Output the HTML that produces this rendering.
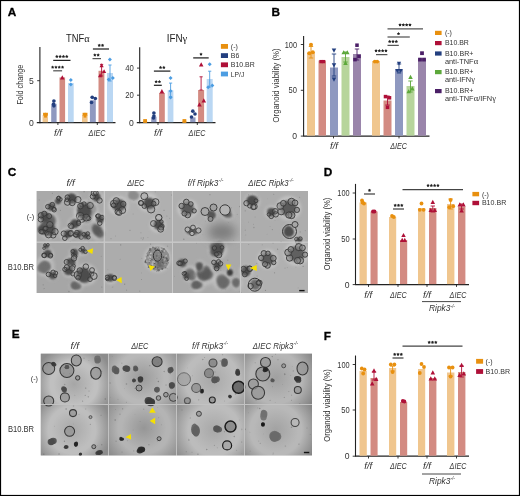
<!DOCTYPE html><html><head><meta charset="utf-8"><style>html,body{margin:0;padding:0;background:#fff;overflow:hidden}svg{display:block;will-change:transform}text{font-family:"Liberation Sans",sans-serif}</style></head><body>
<svg width="520" height="496" viewBox="0 0 520 496">
<defs><filter id="bl" x="-30%" y="-30%" width="160%" height="160%"><feGaussianBlur stdDeviation="0.5"/></filter><filter id="bl4" x="-50%" y="-50%" width="200%" height="200%"><feGaussianBlur stdDeviation="1.4"/></filter><filter id="bl5" x="-50%" y="-50%" width="200%" height="200%"><feGaussianBlur stdDeviation="1.0"/></filter><filter id="bl2" x="-50%" y="-50%" width="200%" height="200%"><feGaussianBlur stdDeviation="2.5"/></filter><filter id="bl3" x="-50%" y="-50%" width="200%" height="200%"><feGaussianBlur stdDeviation="5"/></filter></defs>
<rect x="0" y="0" width="520" height="496" fill="#fff"/>
<text x="7.8" y="16.4" font-size="11.8" text-anchor="start" font-weight="bold" font-style="normal" fill="#000" stroke="#000" stroke-width="0.3">A</text>
<text x="271.5" y="16.4" font-size="11.8" text-anchor="start" font-weight="bold" font-style="normal" fill="#000" stroke="#000" stroke-width="0.3">B</text>
<text x="7.8" y="176.3" font-size="11.8" text-anchor="start" font-weight="bold" font-style="normal" fill="#000" stroke="#000" stroke-width="0.3">C</text>
<text x="323.8" y="176.3" font-size="11.8" text-anchor="start" font-weight="bold" font-style="normal" fill="#000" stroke="#000" stroke-width="0.3">D</text>
<text x="11.8" y="338.4" font-size="11.8" text-anchor="start" font-weight="bold" font-style="normal" fill="#000" stroke="#000" stroke-width="0.3">E</text>
<text x="323.8" y="339.9" font-size="11.8" text-anchor="start" font-weight="bold" font-style="normal" fill="#000" stroke="#000" stroke-width="0.3">F</text>
<text x="66" y="41.9" font-size="10" text-anchor="start" font-weight="normal" font-style="normal" fill="#222" textLength="23.6" lengthAdjust="spacingAndGlyphs">TNF<tspan font-family="Liberation Serif" font-size="11">&#945;</tspan></text>
<line x1="39.9" y1="47" x2="39.9" y2="123.2" stroke="#222" stroke-width="1.1"/>
<line x1="36.8" y1="122.7" x2="115.5" y2="122.7" stroke="#222" stroke-width="1.2"/>
<line x1="37.2" y1="80.7" x2="39.9" y2="80.7" stroke="#222" stroke-width="0.9"/>
<line x1="57.9" y1="122.7" x2="57.9" y2="125" stroke="#222" stroke-width="0.9"/>
<line x1="97.3" y1="122.7" x2="97.3" y2="125" stroke="#222" stroke-width="0.9"/>
<text x="33.9" y="125.6" font-size="8.6" text-anchor="end" font-weight="normal" font-style="normal" fill="#333">0</text>
<text x="33.9" y="83.6" font-size="8.6" text-anchor="end" font-weight="normal" font-style="normal" fill="#333">5</text>
<text x="0" y="0" font-size="8.9" text-anchor="middle" fill="#333" transform="translate(22.7,84.6) rotate(-90)" textLength="40" lengthAdjust="spacingAndGlyphs">Fold change</text>
<text x="54" y="135.6" font-size="8.6" text-anchor="start" font-weight="normal" font-style="italic" fill="#333" textLength="8" lengthAdjust="spacingAndGlyphs">f/f</text>
<text x="88.6" y="135.6" font-size="8.6" text-anchor="start" font-weight="normal" font-style="italic" fill="#333" textLength="16.8" lengthAdjust="spacingAndGlyphs">&#916;IEC</text>
<rect x="42.6" y="115" width="5.4" height="7.2" fill="#F0C68E"/>
<rect x="51.2" y="103.8" width="5.4" height="18.4" fill="#8F99C0"/>
<rect x="59.5" y="77.4" width="5.6" height="44.8" fill="#D38B82"/>
<rect x="68" y="83" width="5.7" height="39.2" fill="#BAD7F3"/>
<rect x="82" y="115" width="5.6" height="7.2" fill="#F0C68E"/>
<rect x="89.9" y="100.2" width="5.9" height="22" fill="#8F99C0"/>
<rect x="98.5" y="70.8" width="5.9" height="51.4" fill="#D38B82"/>
<rect x="107" y="73" width="6" height="49.2" fill="#BAD7F3"/>
<rect x="43.08" y="112.78" width="2.83" height="2.83" fill="#E8900F"/>
<rect x="45.08" y="112.78" width="2.83" height="2.83" fill="#E8900F"/>
<rect x="44.08" y="114.78" width="2.83" height="2.83" fill="#E8900F"/>
<rect x="82.58" y="112.78" width="2.83" height="2.83" fill="#E8900F"/>
<rect x="84.58" y="112.78" width="2.83" height="2.83" fill="#E8900F"/>
<rect x="83.58" y="114.78" width="2.83" height="2.83" fill="#E8900F"/>
<circle cx="53.9" cy="101" r="1.83" fill="#233F7F"/>
<circle cx="53.9" cy="105.8" r="1.83" fill="#233F7F"/>
<circle cx="53.6" cy="104" r="1.83" fill="#233F7F"/>
<circle cx="92.2" cy="97.3" r="1.83" fill="#233F7F"/>
<circle cx="95.3" cy="98.5" r="1.83" fill="#233F7F"/>
<circle cx="91.5" cy="102.5" r="1.83" fill="#233F7F"/>
<polygon points="62.3,75.33 60.03,79.49 64.57,79.49" fill="#AF1038"/>
<line x1="101.6" y1="64.4" x2="101.6" y2="76" stroke="#AF1038" stroke-width="0.9"/>
<line x1="100" y1="64.4" x2="103.2" y2="64.4" stroke="#AF1038" stroke-width="0.9"/>
<line x1="100" y1="76" x2="103.2" y2="76" stroke="#AF1038" stroke-width="0.9"/>
<polygon points="101.6,63.28 99.48,67.17 103.72,67.17" fill="#AF1038"/>
<polygon points="100.1,73.28 97.98,77.17 102.22,77.17" fill="#AF1038"/>
<polygon points="104.1,69.18 101.98,73.07 106.22,73.07" fill="#AF1038"/>
<polygon points="70.8,78.01 72.79,80 70.8,81.99 68.81,80" fill="#4C9DE2"/>
<polygon points="70.8,82.51 72.79,84.5 70.8,86.49 68.81,84.5" fill="#4C9DE2"/>
<line x1="110" y1="65" x2="110" y2="81" stroke="#4C9DE2" stroke-width="0.9"/>
<line x1="108.4" y1="65" x2="111.6" y2="65" stroke="#4C9DE2" stroke-width="0.9"/>
<line x1="108.4" y1="81" x2="111.6" y2="81" stroke="#4C9DE2" stroke-width="0.9"/>
<polygon points="109.9,57.41 111.89,59.4 109.9,61.39 107.91,59.4" fill="#4C9DE2"/>
<polygon points="108.7,77.61 110.69,79.6 108.7,81.59 106.71,79.6" fill="#4C9DE2"/>
<polygon points="112.8,76.01 114.79,78 112.8,79.99 110.81,78" fill="#4C9DE2"/>
<line x1="53.2" y1="60.4" x2="70.5" y2="60.4" stroke="#222" stroke-width="1.25"/>
<polygon points="56.85,54.85 57.45,55.78 58.51,56.06 57.82,56.91 57.88,58.02 56.85,57.62 55.82,58.02 55.88,56.91 55.19,56.06 56.25,55.78" fill="#222"/>
<polygon points="60.15,54.85 60.75,55.78 61.81,56.06 61.12,56.91 61.18,58.02 60.15,57.62 59.12,58.02 59.18,56.91 58.49,56.06 59.55,55.78" fill="#222"/>
<polygon points="63.45,54.85 64.05,55.78 65.11,56.06 64.42,56.91 64.48,58.02 63.45,57.62 62.42,58.02 62.48,56.91 61.79,56.06 62.85,55.78" fill="#222"/>
<polygon points="66.75,54.85 67.35,55.78 68.41,56.06 67.72,56.91 67.78,58.02 66.75,57.62 65.72,58.02 65.78,56.91 65.09,56.06 66.15,55.78" fill="#222"/>
<line x1="53.2" y1="70.8" x2="62.1" y2="70.8" stroke="#555" stroke-width="1.25"/>
<polygon points="52.65,65.45 53.25,66.38 54.31,66.66 53.62,67.51 53.68,68.62 52.65,68.22 51.62,68.62 51.68,67.51 50.99,66.66 52.05,66.38" fill="#222"/>
<polygon points="55.95,65.45 56.55,66.38 57.61,66.66 56.92,67.51 56.98,68.62 55.95,68.22 54.92,68.62 54.98,67.51 54.29,66.66 55.35,66.38" fill="#222"/>
<polygon points="59.25,65.45 59.85,66.38 60.91,66.66 60.22,67.51 60.28,68.62 59.25,68.22 58.22,68.62 58.28,67.51 57.59,66.66 58.65,66.38" fill="#222"/>
<polygon points="62.55,65.45 63.15,66.38 64.21,66.66 63.52,67.51 63.58,68.62 62.55,68.22 61.52,68.62 61.58,67.51 60.89,66.66 61.95,66.38" fill="#222"/>
<line x1="92.9" y1="49" x2="109" y2="49" stroke="#222" stroke-width="1.25"/>
<polygon points="99.25,43.65 99.85,44.58 100.91,44.86 100.22,45.71 100.28,46.82 99.25,46.41 98.22,46.82 98.28,45.71 97.59,44.86 98.65,44.58" fill="#222"/>
<polygon points="102.55,43.65 103.15,44.58 104.21,44.86 103.52,45.71 103.58,46.82 102.55,46.41 101.52,46.82 101.58,45.71 100.89,44.86 101.95,44.58" fill="#222"/>
<line x1="92.5" y1="58.6" x2="101" y2="58.6" stroke="#555" stroke-width="1.25"/>
<polygon points="94.85,53.25 95.45,54.18 96.51,54.46 95.82,55.31 95.88,56.42 94.85,56.02 93.82,56.42 93.88,55.31 93.19,54.46 94.25,54.18" fill="#222"/>
<polygon points="98.15,53.25 98.75,54.18 99.81,54.46 99.12,55.31 99.18,56.42 98.15,56.02 97.12,56.42 97.18,55.31 96.49,54.46 97.55,54.18" fill="#222"/>
<text x="166.8" y="41.9" font-size="10" text-anchor="start" font-weight="normal" font-style="normal" fill="#222" textLength="20.6" lengthAdjust="spacingAndGlyphs">IFN<tspan font-family="Liberation Serif" font-size="11">&#947;</tspan></text>
<line x1="139.7" y1="47.3" x2="139.7" y2="123.2" stroke="#222" stroke-width="1.1"/>
<line x1="136.8" y1="122.7" x2="215.5" y2="122.7" stroke="#222" stroke-width="1.2"/>
<line x1="137" y1="68.1" x2="139.7" y2="68.1" stroke="#222" stroke-width="0.9"/>
<line x1="137" y1="95.2" x2="139.7" y2="95.2" stroke="#222" stroke-width="0.9"/>
<line x1="158" y1="122.7" x2="158" y2="125" stroke="#222" stroke-width="0.9"/>
<line x1="197.3" y1="122.7" x2="197.3" y2="125" stroke="#222" stroke-width="0.9"/>
<text x="133.9" y="125.8" font-size="8.6" text-anchor="end" font-weight="normal" font-style="normal" fill="#333">0</text>
<text x="133.9" y="98.3" font-size="8.6" text-anchor="end" font-weight="normal" font-style="normal" fill="#333" textLength="8.6" lengthAdjust="spacingAndGlyphs">20</text>
<text x="133.9" y="71.1" font-size="8.6" text-anchor="end" font-weight="normal" font-style="normal" fill="#333" textLength="8.6" lengthAdjust="spacingAndGlyphs">40</text>
<text x="154" y="135.6" font-size="8.6" text-anchor="start" font-weight="normal" font-style="italic" fill="#333" textLength="8" lengthAdjust="spacingAndGlyphs">f/f</text>
<text x="188.6" y="135.6" font-size="8.6" text-anchor="start" font-weight="normal" font-style="italic" fill="#333" textLength="16.8" lengthAdjust="spacingAndGlyphs">&#916;IEC</text>
<rect x="143" y="120.8" width="4.2" height="1.4" fill="#F0C68E"/>
<rect x="151.2" y="116.7" width="5.3" height="5.5" fill="#8F99C0"/>
<rect x="159.1" y="92.9" width="5.7" height="29.3" fill="#D38B82"/>
<rect x="167.7" y="90.3" width="5.7" height="31.9" fill="#BAD7F3"/>
<rect x="182.3" y="120.8" width="4.2" height="1.4" fill="#F0C68E"/>
<rect x="190.2" y="117.4" width="5.3" height="4.8" fill="#8F99C0"/>
<rect x="198.1" y="90" width="6" height="32.2" fill="#D38B82"/>
<rect x="206.7" y="79" width="6" height="43.2" fill="#BAD7F3"/>
<rect x="143.21" y="119.11" width="3.78" height="3.78" fill="#E8900F"/>
<rect x="182.51" y="119.11" width="3.78" height="3.78" fill="#E8900F"/>
<circle cx="153.9" cy="113" r="1.83" fill="#233F7F"/>
<circle cx="153.9" cy="116" r="1.83" fill="#233F7F"/>
<circle cx="153.5" cy="118" r="1.83" fill="#233F7F"/>
<circle cx="192.8" cy="111.2" r="1.83" fill="#233F7F"/>
<circle cx="195" cy="114" r="1.83" fill="#233F7F"/>
<circle cx="191.5" cy="117" r="1.83" fill="#233F7F"/>
<polygon points="161.9,89.09 159.49,93.51 164.31,93.51" fill="#AF1038"/>
<line x1="170.6" y1="83.1" x2="170.6" y2="96.7" stroke="#4C9DE2" stroke-width="0.9"/>
<line x1="169" y1="83.1" x2="172.2" y2="83.1" stroke="#4C9DE2" stroke-width="0.9"/>
<line x1="169" y1="96.7" x2="172.2" y2="96.7" stroke="#4C9DE2" stroke-width="0.9"/>
<polygon points="170.6,76.01 172.59,78 170.6,79.99 168.61,78" fill="#4C9DE2"/>
<polygon points="170.6,89.01 172.59,91 170.6,92.99 168.61,91" fill="#4C9DE2"/>
<polygon points="170.6,95.61 172.59,97.6 170.6,99.59 168.61,97.6" fill="#4C9DE2"/>
<line x1="201.1" y1="76.8" x2="201.1" y2="90" stroke="#AF1038" stroke-width="0.9"/>
<line x1="199.5" y1="76.8" x2="202.7" y2="76.8" stroke="#AF1038" stroke-width="0.9"/>
<line x1="199.5" y1="90" x2="202.7" y2="90" stroke="#AF1038" stroke-width="0.9"/>
<polygon points="201.2,62.33 198.93,66.49 203.47,66.49" fill="#AF1038"/>
<polygon points="199.5,102.23 197.23,106.39 201.77,106.39" fill="#AF1038"/>
<polygon points="203.8,98.23 201.53,102.39 206.07,102.39" fill="#AF1038"/>
<line x1="209.7" y1="71.2" x2="209.7" y2="87" stroke="#4C9DE2" stroke-width="0.9"/>
<line x1="208.1" y1="71.2" x2="211.3" y2="71.2" stroke="#4C9DE2" stroke-width="0.9"/>
<line x1="208.1" y1="87" x2="211.3" y2="87" stroke="#4C9DE2" stroke-width="0.9"/>
<polygon points="209.7,62.21 211.69,64.2 209.7,66.19 207.71,64.2" fill="#4C9DE2"/>
<polygon points="208.2,85.21 210.19,87.2 208.2,89.19 206.21,87.2" fill="#4C9DE2"/>
<polygon points="212.3,83.41 214.29,85.4 212.3,87.39 210.31,85.4" fill="#4C9DE2"/>
<line x1="153.9" y1="71.1" x2="170.4" y2="71.1" stroke="#222" stroke-width="1.25"/>
<polygon points="160.55,65.75 161.15,66.68 162.21,66.96 161.52,67.81 161.58,68.92 160.55,68.52 159.52,68.92 159.58,67.81 158.89,66.96 159.95,66.68" fill="#222"/>
<polygon points="163.85,65.75 164.45,66.68 165.51,66.96 164.82,67.81 164.88,68.92 163.85,68.52 162.82,68.92 162.88,67.81 162.19,66.96 163.25,66.68" fill="#222"/>
<line x1="153.9" y1="85.3" x2="161.8" y2="85.3" stroke="#222" stroke-width="1.25"/>
<polygon points="156.15,79.95 156.75,80.88 157.81,81.16 157.12,82.01 157.18,83.12 156.15,82.72 155.12,83.12 155.18,82.01 154.49,81.16 155.55,80.88" fill="#222"/>
<polygon points="159.45,79.95 160.05,80.88 161.11,81.16 160.42,82.01 160.48,83.12 159.45,82.72 158.42,83.12 158.48,82.01 157.79,81.16 158.85,80.88" fill="#222"/>
<line x1="193.2" y1="57.9" x2="208.7" y2="57.9" stroke="#222" stroke-width="1.25"/>
<polygon points="201,52.45 201.6,53.38 202.66,53.66 201.97,54.51 202.03,55.62 201,55.22 199.97,55.62 200.03,54.51 199.34,53.66 200.4,53.38" fill="#222"/>
<rect x="220.9" y="44" width="7.1" height="4.8" fill="#E8900F"/>
<text x="230.8" y="48.9" font-size="7.4" text-anchor="start" font-weight="normal" font-style="normal" fill="#333" textLength="7" lengthAdjust="spacingAndGlyphs">(-)</text>
<rect x="220.9" y="53.2" width="7.1" height="4.8" fill="#233F7F"/>
<text x="230.8" y="58.1" font-size="7.4" text-anchor="start" font-weight="normal" font-style="normal" fill="#333" textLength="8.5" lengthAdjust="spacingAndGlyphs">B6</text>
<rect x="220.9" y="62.4" width="7.1" height="4.8" fill="#AF1038"/>
<text x="230.8" y="67.3" font-size="7.4" text-anchor="start" font-weight="normal" font-style="normal" fill="#333" textLength="24" lengthAdjust="spacingAndGlyphs">B10.BR</text>
<rect x="220.9" y="71.6" width="7.1" height="4.8" fill="#4C9DE2"/>
<text x="230.8" y="76.5" font-size="7.4" text-anchor="start" font-weight="normal" font-style="normal" fill="#333" textLength="13.5" lengthAdjust="spacingAndGlyphs">LP/J</text>
<line x1="303.6" y1="36" x2="303.6" y2="136.6" stroke="#222" stroke-width="1.1"/>
<line x1="303.6" y1="136.1" x2="429.5" y2="136.1" stroke="#222" stroke-width="1.2"/>
<line x1="300.8" y1="44.5" x2="303.6" y2="44.5" stroke="#222" stroke-width="0.9"/>
<line x1="300.8" y1="90.3" x2="303.6" y2="90.3" stroke="#222" stroke-width="0.9"/>
<line x1="300.8" y1="136.1" x2="303.6" y2="136.1" stroke="#222" stroke-width="0.9"/>
<line x1="333.5" y1="136.1" x2="333.5" y2="138.4" stroke="#222" stroke-width="0.9"/>
<line x1="399" y1="136.1" x2="399" y2="138.4" stroke="#222" stroke-width="0.9"/>
<text x="297" y="47.5" font-size="8.6" text-anchor="end" font-weight="normal" font-style="normal" fill="#333" textLength="12.3" lengthAdjust="spacingAndGlyphs">100</text>
<text x="297" y="93.3" font-size="8.6" text-anchor="end" font-weight="normal" font-style="normal" fill="#333" textLength="8.4" lengthAdjust="spacingAndGlyphs">50</text>
<text x="297" y="139.1" font-size="8.6" text-anchor="end" font-weight="normal" font-style="normal" fill="#333">0</text>
<text x="0" y="0" font-size="9.4" text-anchor="middle" fill="#333" transform="translate(278.6,85.5) rotate(-90)" textLength="74" lengthAdjust="spacingAndGlyphs">Organoid viability (%)</text>
<text x="330" y="149" font-size="8.6" text-anchor="start" font-weight="normal" font-style="italic" fill="#333" textLength="8" lengthAdjust="spacingAndGlyphs">f/f</text>
<text x="390.2" y="149" font-size="8.6" text-anchor="start" font-weight="normal" font-style="italic" fill="#333" textLength="16.8" lengthAdjust="spacingAndGlyphs">&#916;IEC</text>
<rect x="307" y="52.5" width="8" height="83.1" fill="#F0C68E"/>
<rect x="318.5" y="60.5" width="7.5" height="75.1" fill="#D38B82"/>
<rect x="330" y="67.5" width="8" height="68.1" fill="#8F99C0"/>
<rect x="341.5" y="57" width="8" height="78.6" fill="#B7D59C"/>
<rect x="353" y="54" width="8" height="81.6" fill="#9A85AB"/>
<rect x="372" y="61" width="8" height="74.6" fill="#F0C68E"/>
<rect x="383.5" y="100.5" width="8" height="35.1" fill="#D38B82"/>
<rect x="395" y="69.5" width="8" height="66.1" fill="#8F99C0"/>
<rect x="406.5" y="86" width="8" height="49.6" fill="#B7D59C"/>
<rect x="418" y="58.5" width="8" height="77.1" fill="#9A85AB"/>
<line x1="311" y1="46.5" x2="311" y2="58" stroke="#E8900F" stroke-width="0.9"/>
<line x1="308.8" y1="46.5" x2="313.2" y2="46.5" stroke="#E8900F" stroke-width="0.9"/>
<line x1="308.8" y1="58" x2="313.2" y2="58" stroke="#E8900F" stroke-width="0.9"/>
<circle cx="311" cy="44.8" r="2.01" fill="#E8900F"/>
<circle cx="309.3" cy="53.2" r="2.01" fill="#E8900F"/>
<circle cx="312.8" cy="52.3" r="2.01" fill="#E8900F"/>
<rect x="319.35" y="59.95" width="3.3" height="3.3" fill="#AF1038"/>
<rect x="321.85" y="59.95" width="3.3" height="3.3" fill="#AF1038"/>
<line x1="334" y1="54" x2="334" y2="76" stroke="#233F7F" stroke-width="0.9"/>
<line x1="331.8" y1="54" x2="336.2" y2="54" stroke="#233F7F" stroke-width="0.9"/>
<line x1="331.8" y1="76" x2="336.2" y2="76" stroke="#233F7F" stroke-width="0.9"/>
<polygon points="334,52.77 331.73,48.61 336.27,48.61" fill="#233F7F"/>
<polygon points="334,67.47 331.73,63.31 336.27,63.31" fill="#233F7F"/>
<polygon points="334,81.77 331.73,77.61 336.27,77.61" fill="#233F7F"/>
<line x1="345.5" y1="52" x2="345.5" y2="62" stroke="#5CA83A" stroke-width="0.9"/>
<line x1="343.3" y1="52" x2="347.7" y2="52" stroke="#5CA83A" stroke-width="0.9"/>
<line x1="343.3" y1="62" x2="347.7" y2="62" stroke="#5CA83A" stroke-width="0.9"/>
<polygon points="343.7,50.13 341.43,54.29 345.97,54.29" fill="#5CA83A"/>
<polygon points="347.3,50.13 345.03,54.29 349.57,54.29" fill="#5CA83A"/>
<polygon points="345.5,60.73 343.23,64.89 347.77,64.89" fill="#5CA83A"/>
<line x1="357" y1="49" x2="357" y2="60" stroke="#4B1F67" stroke-width="0.9"/>
<line x1="354.8" y1="49" x2="359.2" y2="49" stroke="#4B1F67" stroke-width="0.9"/>
<line x1="354.8" y1="60" x2="359.2" y2="60" stroke="#4B1F67" stroke-width="0.9"/>
<rect x="355.23" y="43.43" width="3.54" height="3.54" fill="#4B1F67"/>
<rect x="353.23" y="57.83" width="3.54" height="3.54" fill="#4B1F67"/>
<rect x="357.23" y="54.63" width="3.54" height="3.54" fill="#4B1F67"/>
<circle cx="374.8" cy="61.6" r="1.89" fill="#E8900F"/>
<circle cx="377.2" cy="61.6" r="1.89" fill="#E8900F"/>
<line x1="387.5" y1="96" x2="387.5" y2="105" stroke="#AF1038" stroke-width="0.9"/>
<line x1="385.3" y1="96" x2="389.7" y2="96" stroke="#AF1038" stroke-width="0.9"/>
<line x1="385.3" y1="105" x2="389.7" y2="105" stroke="#AF1038" stroke-width="0.9"/>
<rect x="383.73" y="94.83" width="3.54" height="3.54" fill="#AF1038"/>
<rect x="387.73" y="96.03" width="3.54" height="3.54" fill="#AF1038"/>
<rect x="385.73" y="105.53" width="3.54" height="3.54" fill="#AF1038"/>
<line x1="399" y1="64" x2="399" y2="73" stroke="#233F7F" stroke-width="0.9"/>
<line x1="396.8" y1="64" x2="401.2" y2="64" stroke="#233F7F" stroke-width="0.9"/>
<line x1="396.8" y1="73" x2="401.2" y2="73" stroke="#233F7F" stroke-width="0.9"/>
<polygon points="399,65.62 396.88,61.73 401.12,61.73" fill="#233F7F"/>
<polygon points="397.3,72.92 395.18,69.03 399.42,69.03" fill="#233F7F"/>
<polygon points="400.7,72.92 398.58,69.03 402.82,69.03" fill="#233F7F"/>
<line x1="410.5" y1="81" x2="410.5" y2="92" stroke="#5CA83A" stroke-width="0.9"/>
<line x1="408.3" y1="81" x2="412.7" y2="81" stroke="#5CA83A" stroke-width="0.9"/>
<line x1="408.3" y1="92" x2="412.7" y2="92" stroke="#5CA83A" stroke-width="0.9"/>
<polygon points="410.5,74.73 408.23,78.89 412.77,78.89" fill="#5CA83A"/>
<polygon points="408.7,89.13 406.43,93.29 410.97,93.29" fill="#5CA83A"/>
<polygon points="412.3,86.33 410.03,90.49 414.57,90.49" fill="#5CA83A"/>
<rect x="420.11" y="51.31" width="3.78" height="3.78" fill="#4B1F67"/>
<rect x="418.11" y="57.71" width="3.78" height="3.78" fill="#4B1F67"/>
<rect x="422.11" y="57.71" width="3.78" height="3.78" fill="#4B1F67"/>
<line x1="376" y1="54.6" x2="387.4" y2="54.6" stroke="#555" stroke-width="1.25"/>
<polygon points="376.05,49.05 376.65,49.98 377.71,50.26 377.02,51.11 377.08,52.22 376.05,51.81 375.02,52.22 375.08,51.11 374.39,50.26 375.45,49.98" fill="#222"/>
<polygon points="379.35,49.05 379.95,49.98 381.01,50.26 380.32,51.11 380.38,52.22 379.35,51.81 378.32,52.22 378.38,51.11 377.69,50.26 378.75,49.98" fill="#222"/>
<polygon points="382.65,49.05 383.25,49.98 384.31,50.26 383.62,51.11 383.68,52.22 382.65,51.81 381.62,52.22 381.68,51.11 380.99,50.26 382.05,49.98" fill="#222"/>
<polygon points="385.95,49.05 386.55,49.98 387.61,50.26 386.92,51.11 386.98,52.22 385.95,51.81 384.92,52.22 384.98,51.11 384.29,50.26 385.35,49.98" fill="#222"/>
<line x1="387.5" y1="45.4" x2="398.8" y2="45.4" stroke="#555" stroke-width="1.25"/>
<polygon points="389.7,39.85 390.3,40.78 391.36,41.06 390.67,41.91 390.73,43.02 389.7,42.62 388.67,43.02 388.73,41.91 388.04,41.06 389.1,40.78" fill="#222"/>
<polygon points="393,39.85 393.6,40.78 394.66,41.06 393.97,41.91 394.03,43.02 393,42.62 391.97,43.02 392.03,41.91 391.34,41.06 392.4,40.78" fill="#222"/>
<polygon points="396.3,39.85 396.9,40.78 397.96,41.06 397.27,41.91 397.33,43.02 396.3,42.62 395.27,43.02 395.33,41.91 394.64,41.06 395.7,40.78" fill="#222"/>
<line x1="387.5" y1="37" x2="409.8" y2="37" stroke="#555" stroke-width="1.25"/>
<polygon points="398.5,31.95 399.1,32.88 400.16,33.16 399.47,34.01 399.53,35.12 398.5,34.72 397.47,35.12 397.53,34.01 396.84,33.16 397.9,32.88" fill="#222"/>
<line x1="387.5" y1="28.8" x2="423" y2="28.8" stroke="#555" stroke-width="1.25"/>
<polygon points="400.05,23.15 400.65,24.08 401.71,24.36 401.02,25.21 401.08,26.32 400.05,25.91 399.02,26.32 399.08,25.21 398.39,24.36 399.45,24.08" fill="#222"/>
<polygon points="403.35,23.15 403.95,24.08 405.01,24.36 404.32,25.21 404.38,26.32 403.35,25.91 402.32,26.32 402.38,25.21 401.69,24.36 402.75,24.08" fill="#222"/>
<polygon points="406.65,23.15 407.25,24.08 408.31,24.36 407.62,25.21 407.68,26.32 406.65,25.91 405.62,26.32 405.68,25.21 404.99,24.36 406.05,24.08" fill="#222"/>
<polygon points="409.95,23.15 410.55,24.08 411.61,24.36 410.92,25.21 410.98,26.32 409.95,25.91 408.92,26.32 408.98,25.21 408.29,24.36 409.35,24.08" fill="#222"/>
<rect x="435" y="30.8" width="6.6" height="4.2" fill="#E8900F"/>
<text x="444.9" y="35.1" font-size="7.4" text-anchor="start" font-weight="normal" font-style="normal" fill="#333" textLength="7" lengthAdjust="spacingAndGlyphs">(-)</text>
<rect x="435" y="41" width="6.6" height="4.2" fill="#AF1038"/>
<text x="444.9" y="45.3" font-size="7.4" text-anchor="start" font-weight="normal" font-style="normal" fill="#333" textLength="24" lengthAdjust="spacingAndGlyphs">B10.BR</text>
<rect x="435" y="51.4" width="6.6" height="4.2" fill="#233F7F"/>
<text x="444.9" y="55.7" font-size="7.4" text-anchor="start" font-weight="normal" font-style="normal" fill="#333" textLength="28.5" lengthAdjust="spacingAndGlyphs">B10.BR+</text>
<text x="444.9" y="63.8" font-size="7.4" text-anchor="start" font-weight="normal" font-style="normal" fill="#333">anti-TNF<tspan font-family="Liberation Serif" font-size="8.6">&#945;</tspan></text>
<rect x="435" y="70" width="6.6" height="4.2" fill="#5CA83A"/>
<text x="444.9" y="74.3" font-size="7.4" text-anchor="start" font-weight="normal" font-style="normal" fill="#333" textLength="28.5" lengthAdjust="spacingAndGlyphs">B10.BR+</text>
<text x="444.9" y="82.4" font-size="7.4" text-anchor="start" font-weight="normal" font-style="normal" fill="#333">anti-IFN<tspan font-family="Liberation Serif" font-size="8.6">&#947;</tspan></text>
<rect x="435" y="89" width="6.6" height="4.2" fill="#4B1F67"/>
<text x="444.9" y="93.3" font-size="7.4" text-anchor="start" font-weight="normal" font-style="normal" fill="#333" textLength="28.5" lengthAdjust="spacingAndGlyphs">B10.BR+</text>
<text x="444.9" y="101.4" font-size="7.4" text-anchor="start" font-weight="normal" font-style="normal" fill="#333">anti-TNF<tspan font-family="Liberation Serif" font-size="8.6">&#945;</tspan>/IFN<tspan font-family="Liberation Serif" font-size="8.6">&#947;</tspan></text>
<line x1="355.5" y1="183.9" x2="355.5" y2="285.1" stroke="#222" stroke-width="1.1"/>
<line x1="355.5" y1="284.6" x2="469" y2="284.6" stroke="#222" stroke-width="1.2"/>
<line x1="352.7" y1="193" x2="355.5" y2="193" stroke="#222" stroke-width="0.9"/>
<line x1="352.7" y1="239" x2="355.5" y2="239" stroke="#222" stroke-width="0.9"/>
<line x1="352.7" y1="284.6" x2="355.5" y2="284.6" stroke="#222" stroke-width="0.9"/>
<line x1="368.5" y1="284.6" x2="368.5" y2="286.9" stroke="#222" stroke-width="0.9"/>
<line x1="398" y1="284.6" x2="398" y2="286.9" stroke="#222" stroke-width="0.9"/>
<line x1="427" y1="284.6" x2="427" y2="286.9" stroke="#222" stroke-width="0.9"/>
<line x1="456.5" y1="284.6" x2="456.5" y2="286.9" stroke="#222" stroke-width="0.9"/>
<text x="349.6" y="196" font-size="8.6" text-anchor="end" font-weight="normal" font-style="normal" fill="#333" textLength="12.3" lengthAdjust="spacingAndGlyphs">100</text>
<text x="349.6" y="242" font-size="8.6" text-anchor="end" font-weight="normal" font-style="normal" fill="#333" textLength="8.4" lengthAdjust="spacingAndGlyphs">50</text>
<text x="349.6" y="287.6" font-size="8.6" text-anchor="end" font-weight="normal" font-style="normal" fill="#333">0</text>
<text x="0" y="0" font-size="9.4" text-anchor="middle" fill="#333" transform="translate(330.1,234) rotate(-90)" textLength="72.5" lengthAdjust="spacingAndGlyphs">Organoid viability (%)</text>
<text x="364.3" y="298" font-size="8.6" text-anchor="start" font-weight="normal" font-style="italic" fill="#333" textLength="8" lengthAdjust="spacingAndGlyphs">f/f</text>
<text x="390" y="298" font-size="8.6" text-anchor="start" font-weight="normal" font-style="italic" fill="#333" textLength="16.8" lengthAdjust="spacingAndGlyphs">&#916;IEC</text>
<text x="423" y="298" font-size="8.6" text-anchor="start" font-weight="normal" font-style="italic" fill="#333" textLength="8" lengthAdjust="spacingAndGlyphs">f/f</text>
<text x="449.6" y="298" font-size="8.6" text-anchor="start" font-weight="normal" font-style="italic" fill="#333" textLength="16.8" lengthAdjust="spacingAndGlyphs">&#916;IEC</text>
<line x1="422" y1="301.6" x2="461" y2="301.6" stroke="#333" stroke-width="0.9"/>
<text x="429" y="311" font-size="8.6" text-anchor="start" font-weight="normal" font-style="italic" fill="#333" textLength="26" lengthAdjust="spacingAndGlyphs">Ripk3<tspan font-size="5" dy="-3.3">-/-</tspan></text>
<rect x="359.5" y="202.5" width="7.3" height="81.6" fill="#F0C68E"/>
<rect x="370.5" y="211.5" width="7.1" height="72.6" fill="#D38B82"/>
<rect x="389" y="217" width="7.2" height="67.1" fill="#F0C68E"/>
<rect x="400" y="240" width="7.2" height="44.1" fill="#D38B82"/>
<rect x="418" y="208" width="7.2" height="76.1" fill="#F0C68E"/>
<rect x="429" y="208" width="7.4" height="76.1" fill="#D38B82"/>
<rect x="447" y="204" width="7.4" height="80.1" fill="#F0C68E"/>
<rect x="458" y="206.5" width="7.4" height="77.6" fill="#D38B82"/>
<line x1="432.8" y1="206" x2="432.8" y2="212" stroke="#AF1038" stroke-width="0.9"/>
<line x1="430.6" y1="206" x2="435" y2="206" stroke="#AF1038" stroke-width="0.9"/>
<line x1="430.6" y1="212" x2="435" y2="212" stroke="#AF1038" stroke-width="0.9"/>
<line x1="450.6" y1="199" x2="450.6" y2="209" stroke="#E8900F" stroke-width="0.9"/>
<line x1="448.4" y1="199" x2="452.8" y2="199" stroke="#E8900F" stroke-width="0.9"/>
<line x1="448.4" y1="209" x2="452.8" y2="209" stroke="#E8900F" stroke-width="0.9"/>
<line x1="461.6" y1="204" x2="461.6" y2="209" stroke="#AF1038" stroke-width="0.9"/>
<line x1="459.4" y1="204" x2="463.8" y2="204" stroke="#AF1038" stroke-width="0.9"/>
<line x1="459.4" y1="209" x2="463.8" y2="209" stroke="#AF1038" stroke-width="0.9"/>
<circle cx="362" cy="200.5" r="1.89" fill="#E8900F"/>
<circle cx="364" cy="203.5" r="1.89" fill="#E8900F"/>
<circle cx="362.5" cy="202.5" r="1.89" fill="#E8900F"/>
<circle cx="373" cy="211.5" r="1.89" fill="#AF1038"/>
<circle cx="374.5" cy="211.5" r="1.89" fill="#AF1038"/>
<circle cx="392" cy="216" r="1.89" fill="#E8900F"/>
<circle cx="393.8" cy="217" r="1.89" fill="#E8900F"/>
<polygon points="403.5,232.93 401.23,237.09 405.77,237.09" fill="#AF1038"/>
<polygon points="402.2,237.73 399.93,241.89 404.47,241.89" fill="#AF1038"/>
<polygon points="404.8,237.73 402.53,241.89 407.07,241.89" fill="#AF1038"/>
<circle cx="421.5" cy="203.5" r="1.89" fill="#E8900F"/>
<circle cx="419.8" cy="209.8" r="1.89" fill="#E8900F"/>
<circle cx="423.6" cy="209.8" r="1.89" fill="#E8900F"/>
<polygon points="432.8,199.73 430.53,203.89 435.07,203.89" fill="#AF1038"/>
<polygon points="430.8,207.73 428.53,211.89 433.07,211.89" fill="#AF1038"/>
<polygon points="434.8,207.73 432.53,211.89 437.07,211.89" fill="#AF1038"/>
<circle cx="450.6" cy="200" r="1.89" fill="#E8900F"/>
<circle cx="449.2" cy="207.2" r="1.89" fill="#E8900F"/>
<circle cx="453.2" cy="206.2" r="1.89" fill="#E8900F"/>
<polygon points="459.8,202.23 457.53,206.39 462.07,206.39" fill="#AF1038"/>
<polygon points="463.4,202.23 461.13,206.39 465.67,206.39" fill="#AF1038"/>
<polygon points="461.6,208.23 459.33,212.39 463.87,212.39" fill="#AF1038"/>
<line x1="364" y1="194" x2="375" y2="194" stroke="#444" stroke-width="1.25"/>
<polygon points="369.5,188.65 370.1,189.58 371.16,189.86 370.47,190.71 370.53,191.82 369.5,191.41 368.47,191.82 368.53,190.71 367.84,189.86 368.9,189.58" fill="#222"/>
<line x1="393" y1="209" x2="404" y2="209" stroke="#444" stroke-width="1.25"/>
<polygon points="395.2,203.65 395.8,204.58 396.86,204.86 396.17,205.71 396.23,206.82 395.2,206.41 394.17,206.82 394.23,205.71 393.54,204.86 394.6,204.58" fill="#222"/>
<polygon points="398.5,203.65 399.1,204.58 400.16,204.86 399.47,205.71 399.53,206.82 398.5,206.41 397.47,206.82 397.53,205.71 396.84,204.86 397.9,204.58" fill="#222"/>
<polygon points="401.8,203.65 402.4,204.58 403.46,204.86 402.77,205.71 402.83,206.82 401.8,206.41 400.77,206.82 400.83,205.71 400.14,204.86 401.2,204.58" fill="#222"/>
<line x1="402.5" y1="189.5" x2="463" y2="189.5" stroke="#444" stroke-width="1.25"/>
<polygon points="428.05,183.75 428.65,184.68 429.71,184.96 429.02,185.81 429.08,186.92 428.05,186.51 427.02,186.92 427.08,185.81 426.39,184.96 427.45,184.68" fill="#222"/>
<polygon points="431.35,183.75 431.95,184.68 433.01,184.96 432.32,185.81 432.38,186.92 431.35,186.51 430.32,186.92 430.38,185.81 429.69,184.96 430.75,184.68" fill="#222"/>
<polygon points="434.65,183.75 435.25,184.68 436.31,184.96 435.62,185.81 435.68,186.92 434.65,186.51 433.62,186.92 433.68,185.81 432.99,184.96 434.05,184.68" fill="#222"/>
<polygon points="437.95,183.75 438.55,184.68 439.61,184.96 438.92,185.81 438.98,186.92 437.95,186.51 436.92,186.92 436.98,185.81 436.29,184.96 437.35,184.68" fill="#222"/>
<rect x="472.4" y="191.9" width="6.7" height="4.4" fill="#E8900F"/>
<rect x="472.4" y="200.8" width="6.7" height="4.4" fill="#AF1038"/>
<text x="481.9" y="196.5" font-size="7.6" text-anchor="start" font-weight="normal" font-style="normal" fill="#333" textLength="7" lengthAdjust="spacingAndGlyphs">(-)</text>
<text x="481.9" y="205.4" font-size="7.6" text-anchor="start" font-weight="normal" font-style="normal" fill="#333" textLength="24.4" lengthAdjust="spacingAndGlyphs">B10.BR</text>
<line x1="355.5" y1="355.5" x2="355.5" y2="456.7" stroke="#222" stroke-width="1.1"/>
<line x1="355.5" y1="456.2" x2="469" y2="456.2" stroke="#222" stroke-width="1.2"/>
<line x1="352.7" y1="364.5" x2="355.5" y2="364.5" stroke="#222" stroke-width="0.9"/>
<line x1="352.7" y1="410" x2="355.5" y2="410" stroke="#222" stroke-width="0.9"/>
<line x1="352.7" y1="456.2" x2="355.5" y2="456.2" stroke="#222" stroke-width="0.9"/>
<line x1="368.5" y1="456.2" x2="368.5" y2="458.5" stroke="#222" stroke-width="0.9"/>
<line x1="398" y1="456.2" x2="398" y2="458.5" stroke="#222" stroke-width="0.9"/>
<line x1="427" y1="456.2" x2="427" y2="458.5" stroke="#222" stroke-width="0.9"/>
<line x1="456.5" y1="456.2" x2="456.5" y2="458.5" stroke="#222" stroke-width="0.9"/>
<text x="349.6" y="367.5" font-size="8.6" text-anchor="end" font-weight="normal" font-style="normal" fill="#333" textLength="12.3" lengthAdjust="spacingAndGlyphs">100</text>
<text x="349.6" y="413" font-size="8.6" text-anchor="end" font-weight="normal" font-style="normal" fill="#333" textLength="8.4" lengthAdjust="spacingAndGlyphs">50</text>
<text x="349.6" y="459.2" font-size="8.6" text-anchor="end" font-weight="normal" font-style="normal" fill="#333">0</text>
<text x="0" y="0" font-size="9.4" text-anchor="middle" fill="#333" transform="translate(330.1,405.55) rotate(-90)" textLength="72.5" lengthAdjust="spacingAndGlyphs">Organoid viability (%)</text>
<text x="364.3" y="468.6" font-size="8.6" text-anchor="start" font-weight="normal" font-style="italic" fill="#333" textLength="8" lengthAdjust="spacingAndGlyphs">f/f</text>
<text x="390" y="468.6" font-size="8.6" text-anchor="start" font-weight="normal" font-style="italic" fill="#333" textLength="16.8" lengthAdjust="spacingAndGlyphs">&#916;IEC</text>
<text x="423" y="468.6" font-size="8.6" text-anchor="start" font-weight="normal" font-style="italic" fill="#333" textLength="8" lengthAdjust="spacingAndGlyphs">f/f</text>
<text x="449.6" y="468.6" font-size="8.6" text-anchor="start" font-weight="normal" font-style="italic" fill="#333" textLength="16.8" lengthAdjust="spacingAndGlyphs">&#916;IEC</text>
<line x1="422" y1="474" x2="461" y2="474" stroke="#333" stroke-width="0.9"/>
<text x="429" y="483.6" font-size="8.6" text-anchor="start" font-weight="normal" font-style="italic" fill="#333" textLength="26" lengthAdjust="spacingAndGlyphs">Ripk3<tspan font-size="5" dy="-3.3">-/-</tspan></text>
<rect x="359.5" y="371" width="7.3" height="84.7" fill="#F0C68E"/>
<rect x="370.5" y="378" width="7.1" height="77.7" fill="#D38B82"/>
<rect x="389" y="368" width="7.2" height="87.7" fill="#F0C68E"/>
<rect x="400" y="402" width="7.2" height="53.7" fill="#D38B82"/>
<rect x="418" y="369" width="7.2" height="86.7" fill="#F0C68E"/>
<rect x="429" y="378" width="7.4" height="77.7" fill="#D38B82"/>
<rect x="447" y="372.5" width="7.4" height="83.2" fill="#F0C68E"/>
<rect x="458" y="372" width="7.4" height="83.7" fill="#D38B82"/>
<line x1="374" y1="372" x2="374" y2="380" stroke="#AF1038" stroke-width="0.9"/>
<line x1="371.8" y1="372" x2="376.2" y2="372" stroke="#AF1038" stroke-width="0.9"/>
<line x1="371.8" y1="380" x2="376.2" y2="380" stroke="#AF1038" stroke-width="0.9"/>
<line x1="392.6" y1="366" x2="392.6" y2="371" stroke="#E8900F" stroke-width="0.9"/>
<line x1="390.4" y1="366" x2="394.8" y2="366" stroke="#E8900F" stroke-width="0.9"/>
<line x1="390.4" y1="371" x2="394.8" y2="371" stroke="#E8900F" stroke-width="0.9"/>
<line x1="450.6" y1="367" x2="450.6" y2="376" stroke="#E8900F" stroke-width="0.9"/>
<line x1="448.4" y1="367" x2="452.8" y2="367" stroke="#E8900F" stroke-width="0.9"/>
<line x1="448.4" y1="376" x2="452.8" y2="376" stroke="#E8900F" stroke-width="0.9"/>
<line x1="461.6" y1="366" x2="461.6" y2="377" stroke="#AF1038" stroke-width="0.9"/>
<line x1="459.4" y1="366" x2="463.8" y2="366" stroke="#AF1038" stroke-width="0.9"/>
<line x1="459.4" y1="377" x2="463.8" y2="377" stroke="#AF1038" stroke-width="0.9"/>
<circle cx="361.8" cy="368.5" r="1.89" fill="#E8900F"/>
<circle cx="364.6" cy="369.5" r="1.89" fill="#E8900F"/>
<circle cx="363.2" cy="373.5" r="1.89" fill="#E8900F"/>
<polygon points="374,368.23 371.73,372.39 376.27,372.39" fill="#AF1038"/>
<polygon points="372.2,381.23 369.93,385.39 374.47,385.39" fill="#AF1038"/>
<polygon points="376.2,376.73 373.93,380.89 378.47,380.89" fill="#AF1038"/>
<circle cx="390.8" cy="364.5" r="1.89" fill="#E8900F"/>
<circle cx="394.4" cy="364.5" r="1.89" fill="#E8900F"/>
<circle cx="392.6" cy="372" r="1.89" fill="#E8900F"/>
<circle cx="402.8" cy="401" r="1.89" fill="#AF1038"/>
<circle cx="404.4" cy="401.5" r="1.89" fill="#AF1038"/>
<circle cx="421.5" cy="364" r="1.89" fill="#E8900F"/>
<circle cx="424" cy="367" r="1.89" fill="#E8900F"/>
<circle cx="419.8" cy="373" r="1.89" fill="#E8900F"/>
<polygon points="432.8,370.23 430.53,374.39 435.07,374.39" fill="#AF1038"/>
<polygon points="430.8,376.23 428.53,380.39 433.07,380.39" fill="#AF1038"/>
<polygon points="434.8,376.23 432.53,380.39 437.07,380.39" fill="#AF1038"/>
<circle cx="449" cy="367.5" r="1.89" fill="#E8900F"/>
<circle cx="452.6" cy="367.5" r="1.89" fill="#E8900F"/>
<circle cx="450.6" cy="376.5" r="1.89" fill="#E8900F"/>
<polygon points="461.6,362.73 459.33,366.89 463.87,366.89" fill="#AF1038"/>
<polygon points="459.6,372.73 457.33,376.89 461.87,376.89" fill="#AF1038"/>
<polygon points="463.8,371.23 461.53,375.39 466.07,375.39" fill="#AF1038"/>
<line x1="392.5" y1="358" x2="403.5" y2="358" stroke="#444" stroke-width="1.25"/>
<polygon points="394.7,352.65 395.3,353.58 396.36,353.86 395.67,354.71 395.73,355.82 394.7,355.41 393.67,355.82 393.73,354.71 393.04,353.86 394.1,353.58" fill="#222"/>
<polygon points="398,352.65 398.6,353.58 399.66,353.86 398.97,354.71 399.03,355.82 398,355.41 396.97,355.82 397.03,354.71 396.34,353.86 397.4,353.58" fill="#222"/>
<polygon points="401.3,352.65 401.9,353.58 402.96,353.86 402.27,354.71 402.33,355.82 401.3,355.41 400.27,355.82 400.33,354.71 399.64,353.86 400.7,353.58" fill="#222"/>
<line x1="402.5" y1="346" x2="462.5" y2="346" stroke="#444" stroke-width="1.25"/>
<polygon points="429.2,340.65 429.8,341.58 430.86,341.86 430.17,342.71 430.23,343.82 429.2,343.41 428.17,343.82 428.23,342.71 427.54,341.86 428.6,341.58" fill="#222"/>
<polygon points="432.5,340.65 433.1,341.58 434.16,341.86 433.47,342.71 433.53,343.82 432.5,343.41 431.47,343.82 431.53,342.71 430.84,341.86 431.9,341.58" fill="#222"/>
<polygon points="435.8,340.65 436.4,341.58 437.46,341.86 436.77,342.71 436.83,343.82 435.8,343.41 434.77,343.82 434.83,342.71 434.14,341.86 435.2,341.58" fill="#222"/>
<rect x="476.1" y="358.9" width="7" height="4.8" fill="#E8900F"/>
<rect x="476.1" y="369.1" width="7" height="4.8" fill="#AF1038"/>
<text x="485.6" y="363.9" font-size="7.6" text-anchor="start" font-weight="normal" font-style="normal" fill="#333" textLength="7" lengthAdjust="spacingAndGlyphs">(-)</text>
<text x="485.6" y="374.1" font-size="7.6" text-anchor="start" font-weight="normal" font-style="normal" fill="#333" textLength="24.4" lengthAdjust="spacingAndGlyphs">B10.BR</text>
<g>
<rect x="36.7" y="191" width="271.3" height="102" fill="#cacaca"/>
<rect x="36.7" y="191" width="67.1" height="50.7" fill="#a9a9a9"/>
<rect x="104.8" y="191" width="67.2" height="50.7" fill="#b0b0b0"/>
<rect x="173" y="191" width="67" height="50.7" fill="#afafaf"/>
<rect x="241" y="191" width="67" height="50.7" fill="#adadad"/>
<rect x="36.7" y="242.7" width="67.1" height="50.3" fill="#a6a6a6"/>
<rect x="104.8" y="242.7" width="67.2" height="50.3" fill="#acacac"/>
<rect x="173" y="242.7" width="67" height="50.3" fill="#a9a9a9"/>
<rect x="241" y="242.7" width="67" height="50.3" fill="#b1b1b1"/>
<clipPath id="cc"><rect x="36.7" y="191" width="271.3" height="102"/></clipPath>
<g clip-path="url(#cc)">
<circle cx="253.56" cy="224.24" r="0.43" fill="#6a6a6a" fill-opacity="0.54"/>
<circle cx="68.18" cy="239.58" r="0.55" fill="#6a6a6a" fill-opacity="0.46"/>
<circle cx="76.42" cy="255.33" r="0.53" fill="#6a6a6a" fill-opacity="0.55"/>
<circle cx="44.68" cy="288.63" r="0.41" fill="#6a6a6a" fill-opacity="0.53"/>
<circle cx="174.48" cy="276.24" r="0.41" fill="#6a6a6a" fill-opacity="0.36"/>
<circle cx="60.63" cy="270.43" r="0.54" fill="#6a6a6a" fill-opacity="0.32"/>
<circle cx="88.95" cy="199.26" r="0.42" fill="#6a6a6a" fill-opacity="0.45"/>
<circle cx="155.6" cy="262.83" r="0.38" fill="#6a6a6a" fill-opacity="0.54"/>
<circle cx="303.14" cy="266.45" r="0.61" fill="#6a6a6a" fill-opacity="0.55"/>
<circle cx="62.72" cy="238.05" r="0.38" fill="#6a6a6a" fill-opacity="0.52"/>
<circle cx="182.79" cy="201.86" r="0.51" fill="#6a6a6a" fill-opacity="0.52"/>
<circle cx="186.61" cy="203.39" r="0.68" fill="#6a6a6a" fill-opacity="0.27"/>
<circle cx="265.48" cy="290.35" r="0.61" fill="#6a6a6a" fill-opacity="0.58"/>
<circle cx="180.89" cy="213.35" r="0.52" fill="#6a6a6a" fill-opacity="0.51"/>
<circle cx="245.27" cy="230.2" r="0.68" fill="#6a6a6a" fill-opacity="0.26"/>
<circle cx="171.37" cy="195.02" r="0.48" fill="#6a6a6a" fill-opacity="0.6"/>
<circle cx="68.95" cy="291.53" r="0.67" fill="#6a6a6a" fill-opacity="0.49"/>
<circle cx="52.16" cy="239.09" r="0.59" fill="#6a6a6a" fill-opacity="0.28"/>
<circle cx="117.82" cy="200.37" r="0.65" fill="#6a6a6a" fill-opacity="0.57"/>
<circle cx="287.31" cy="267.58" r="0.55" fill="#6a6a6a" fill-opacity="0.27"/>
<circle cx="167.47" cy="268.58" r="0.61" fill="#6a6a6a" fill-opacity="0.26"/>
<circle cx="39.22" cy="199.99" r="0.67" fill="#6a6a6a" fill-opacity="0.29"/>
<circle cx="142.76" cy="239.54" r="0.66" fill="#6a6a6a" fill-opacity="0.3"/>
<circle cx="107.87" cy="269.74" r="0.38" fill="#6a6a6a" fill-opacity="0.31"/>
<circle cx="43.8" cy="288.74" r="0.43" fill="#6a6a6a" fill-opacity="0.43"/>
<circle cx="139.75" cy="291.12" r="0.6" fill="#6a6a6a" fill-opacity="0.46"/>
<circle cx="169.66" cy="218.32" r="0.64" fill="#6a6a6a" fill-opacity="0.29"/>
<circle cx="205.5" cy="221.09" r="0.45" fill="#6a6a6a" fill-opacity="0.41"/>
<circle cx="88.25" cy="251.37" r="0.37" fill="#6a6a6a" fill-opacity="0.26"/>
<circle cx="75.3" cy="200.17" r="0.66" fill="#6a6a6a" fill-opacity="0.43"/>
<circle cx="220.94" cy="270.46" r="0.41" fill="#6a6a6a" fill-opacity="0.58"/>
<circle cx="141.15" cy="237.95" r="0.52" fill="#6a6a6a" fill-opacity="0.49"/>
<circle cx="245.23" cy="210.79" r="0.64" fill="#6a6a6a" fill-opacity="0.4"/>
<circle cx="105.03" cy="279.16" r="0.66" fill="#6a6a6a" fill-opacity="0.55"/>
<circle cx="124.66" cy="284.22" r="0.62" fill="#6a6a6a" fill-opacity="0.59"/>
<circle cx="241.57" cy="292.98" r="0.52" fill="#6a6a6a" fill-opacity="0.51"/>
<circle cx="248.7" cy="244.49" r="0.53" fill="#6a6a6a" fill-opacity="0.39"/>
<circle cx="272.37" cy="229.61" r="0.61" fill="#6a6a6a" fill-opacity="0.45"/>
<circle cx="228.57" cy="222.54" r="0.38" fill="#6a6a6a" fill-opacity="0.49"/>
<circle cx="76.3" cy="227.68" r="0.62" fill="#6a6a6a" fill-opacity="0.27"/>
<circle cx="283.89" cy="251.06" r="0.55" fill="#6a6a6a" fill-opacity="0.49"/>
<circle cx="52.44" cy="193.26" r="0.6" fill="#6a6a6a" fill-opacity="0.46"/>
<circle cx="210.29" cy="274.96" r="0.44" fill="#6a6a6a" fill-opacity="0.31"/>
<circle cx="299.58" cy="197.17" r="0.53" fill="#6a6a6a" fill-opacity="0.47"/>
<circle cx="295.84" cy="199.84" r="0.6" fill="#6a6a6a" fill-opacity="0.28"/>
<circle cx="159.98" cy="254.26" r="0.65" fill="#6a6a6a" fill-opacity="0.27"/>
<circle cx="239.84" cy="206.18" r="0.49" fill="#6a6a6a" fill-opacity="0.59"/>
<circle cx="267.48" cy="198.82" r="0.35" fill="#6a6a6a" fill-opacity="0.26"/>
<circle cx="248.61" cy="194.91" r="0.62" fill="#6a6a6a" fill-opacity="0.53"/>
<circle cx="258.57" cy="286.54" r="0.57" fill="#6a6a6a" fill-opacity="0.54"/>
<circle cx="184.11" cy="259.18" r="0.37" fill="#6a6a6a" fill-opacity="0.44"/>
<circle cx="305.38" cy="230.59" r="0.6" fill="#6a6a6a" fill-opacity="0.31"/>
<circle cx="167.52" cy="246.23" r="0.62" fill="#6a6a6a" fill-opacity="0.36"/>
<circle cx="164.04" cy="210.37" r="0.55" fill="#6a6a6a" fill-opacity="0.58"/>
<circle cx="141.78" cy="258.25" r="0.54" fill="#6a6a6a" fill-opacity="0.32"/>
<circle cx="225.72" cy="212.59" r="0.56" fill="#6a6a6a" fill-opacity="0.6"/>
<circle cx="120.12" cy="259.2" r="0.47" fill="#6a6a6a" fill-opacity="0.48"/>
<circle cx="88.85" cy="242.07" r="0.62" fill="#6a6a6a" fill-opacity="0.32"/>
<circle cx="133.11" cy="214.02" r="0.41" fill="#6a6a6a" fill-opacity="0.48"/>
<circle cx="262.28" cy="244.73" r="0.51" fill="#6a6a6a" fill-opacity="0.36"/>
<circle cx="101.85" cy="287.12" r="0.52" fill="#6a6a6a" fill-opacity="0.49"/>
<circle cx="112.63" cy="208.65" r="0.35" fill="#6a6a6a" fill-opacity="0.35"/>
<circle cx="150.56" cy="244.17" r="0.57" fill="#6a6a6a" fill-opacity="0.49"/>
<circle cx="274.55" cy="272.8" r="0.59" fill="#6a6a6a" fill-opacity="0.53"/>
<circle cx="183.84" cy="239.22" r="0.67" fill="#6a6a6a" fill-opacity="0.56"/>
<circle cx="141.59" cy="279.47" r="0.5" fill="#6a6a6a" fill-opacity="0.51"/>
<circle cx="43.56" cy="251.66" r="0.68" fill="#6a6a6a" fill-opacity="0.4"/>
<circle cx="272.96" cy="260.43" r="0.36" fill="#6a6a6a" fill-opacity="0.28"/>
<circle cx="126.59" cy="290.08" r="0.58" fill="#6a6a6a" fill-opacity="0.46"/>
<circle cx="270.05" cy="226.72" r="0.4" fill="#6a6a6a" fill-opacity="0.41"/>
<circle cx="283.08" cy="207.88" r="0.52" fill="#6a6a6a" fill-opacity="0.35"/>
<circle cx="133.82" cy="200.43" r="0.67" fill="#6a6a6a" fill-opacity="0.34"/>
<circle cx="250.85" cy="208.64" r="0.5" fill="#6a6a6a" fill-opacity="0.26"/>
<circle cx="196.47" cy="242.99" r="0.5" fill="#6a6a6a" fill-opacity="0.32"/>
<circle cx="209.96" cy="194.63" r="0.68" fill="#6a6a6a" fill-opacity="0.42"/>
<circle cx="202.58" cy="234.29" r="0.36" fill="#6a6a6a" fill-opacity="0.26"/>
<circle cx="233.65" cy="240.63" r="0.45" fill="#6a6a6a" fill-opacity="0.44"/>
<circle cx="273.06" cy="243" r="0.53" fill="#6a6a6a" fill-opacity="0.45"/>
<circle cx="273.74" cy="194.22" r="0.58" fill="#6a6a6a" fill-opacity="0.45"/>
<circle cx="231.11" cy="207.82" r="0.64" fill="#6a6a6a" fill-opacity="0.53"/>
<circle cx="112.17" cy="287.7" r="0.37" fill="#6a6a6a" fill-opacity="0.44"/>
<circle cx="60.44" cy="210.23" r="0.57" fill="#6a6a6a" fill-opacity="0.5"/>
<circle cx="166.88" cy="216" r="0.54" fill="#6a6a6a" fill-opacity="0.41"/>
<circle cx="140.96" cy="232.85" r="0.51" fill="#6a6a6a" fill-opacity="0.38"/>
<circle cx="70.17" cy="241.68" r="0.45" fill="#6a6a6a" fill-opacity="0.53"/>
<circle cx="295.93" cy="267.02" r="0.47" fill="#6a6a6a" fill-opacity="0.42"/>
<circle cx="237.28" cy="214.36" r="0.63" fill="#6a6a6a" fill-opacity="0.27"/>
<circle cx="299.25" cy="247.81" r="0.62" fill="#6a6a6a" fill-opacity="0.46"/>
<circle cx="267.1" cy="234.16" r="0.38" fill="#6a6a6a" fill-opacity="0.32"/>
<circle cx="239.18" cy="291.33" r="0.43" fill="#6a6a6a" fill-opacity="0.42"/>
<circle cx="248.6" cy="222.1" r="0.43" fill="#6a6a6a" fill-opacity="0.52"/>
<circle cx="68.63" cy="225.02" r="0.56" fill="#6a6a6a" fill-opacity="0.42"/>
<circle cx="294.13" cy="240.34" r="0.49" fill="#6a6a6a" fill-opacity="0.32"/>
<circle cx="258.24" cy="196.09" r="0.36" fill="#6a6a6a" fill-opacity="0.38"/>
<circle cx="255.1" cy="216.98" r="0.51" fill="#6a6a6a" fill-opacity="0.28"/>
<circle cx="112.83" cy="286.84" r="0.65" fill="#6a6a6a" fill-opacity="0.28"/>
<circle cx="295.9" cy="238.79" r="0.4" fill="#6a6a6a" fill-opacity="0.38"/>
<circle cx="297.62" cy="209.7" r="0.62" fill="#6a6a6a" fill-opacity="0.58"/>
<circle cx="285.04" cy="268.06" r="0.67" fill="#6a6a6a" fill-opacity="0.29"/>
<circle cx="225.35" cy="289.17" r="0.53" fill="#6a6a6a" fill-opacity="0.26"/>
<circle cx="115.6" cy="236.08" r="0.49" fill="#6a6a6a" fill-opacity="0.5"/>
<circle cx="84.09" cy="191.68" r="0.58" fill="#6a6a6a" fill-opacity="0.6"/>
<circle cx="168.02" cy="260.45" r="0.6" fill="#6a6a6a" fill-opacity="0.48"/>
<circle cx="252.23" cy="194.08" r="0.6" fill="#6a6a6a" fill-opacity="0.4"/>
<circle cx="141.7" cy="272.9" r="0.4" fill="#6a6a6a" fill-opacity="0.57"/>
<circle cx="257.05" cy="276.09" r="0.67" fill="#6a6a6a" fill-opacity="0.33"/>
<circle cx="197.9" cy="283.26" r="0.54" fill="#6a6a6a" fill-opacity="0.49"/>
<circle cx="65.34" cy="259.09" r="0.36" fill="#6a6a6a" fill-opacity="0.43"/>
<circle cx="44.44" cy="222.42" r="0.39" fill="#6a6a6a" fill-opacity="0.35"/>
<circle cx="71.94" cy="260.56" r="0.53" fill="#6a6a6a" fill-opacity="0.52"/>
<circle cx="256.74" cy="263.39" r="0.56" fill="#6a6a6a" fill-opacity="0.43"/>
<circle cx="245.79" cy="235.04" r="0.48" fill="#6a6a6a" fill-opacity="0.39"/>
<circle cx="43.75" cy="212.32" r="0.57" fill="#6a6a6a" fill-opacity="0.39"/>
<circle cx="152.64" cy="200.75" r="0.4" fill="#6a6a6a" fill-opacity="0.56"/>
<circle cx="253.9" cy="227.52" r="0.67" fill="#6a6a6a" fill-opacity="0.45"/>
<circle cx="239.89" cy="206.63" r="0.68" fill="#6a6a6a" fill-opacity="0.41"/>
<circle cx="74.38" cy="197.81" r="0.37" fill="#6a6a6a" fill-opacity="0.25"/>
<circle cx="247.52" cy="272.03" r="0.44" fill="#6a6a6a" fill-opacity="0.35"/>
<circle cx="284.28" cy="214.69" r="0.67" fill="#6a6a6a" fill-opacity="0.54"/>
<circle cx="147.93" cy="237.61" r="0.49" fill="#6a6a6a" fill-opacity="0.38"/>
<circle cx="227.73" cy="260.22" r="0.7" fill="#6a6a6a" fill-opacity="0.29"/>
<circle cx="120.7" cy="244.95" r="0.63" fill="#6a6a6a" fill-opacity="0.6"/>
<circle cx="259.29" cy="200.62" r="0.62" fill="#6a6a6a" fill-opacity="0.33"/>
<circle cx="153.84" cy="198.6" r="0.36" fill="#6a6a6a" fill-opacity="0.4"/>
<circle cx="274.97" cy="220.59" r="0.36" fill="#6a6a6a" fill-opacity="0.49"/>
<circle cx="112.67" cy="199.73" r="0.42" fill="#6a6a6a" fill-opacity="0.56"/>
<circle cx="281.07" cy="241.74" r="0.52" fill="#6a6a6a" fill-opacity="0.49"/>
<circle cx="129.99" cy="230.29" r="0.62" fill="#6a6a6a" fill-opacity="0.48"/>
<circle cx="277.58" cy="249.15" r="0.64" fill="#6a6a6a" fill-opacity="0.54"/>
<circle cx="101.23" cy="256.35" r="0.54" fill="#6a6a6a" fill-opacity="0.31"/>
<circle cx="96.56" cy="230.92" r="0.68" fill="#6a6a6a" fill-opacity="0.26"/>
<circle cx="298.16" cy="287.88" r="0.49" fill="#6a6a6a" fill-opacity="0.47"/>
<circle cx="119.11" cy="195.33" r="0.36" fill="#6a6a6a" fill-opacity="0.51"/>
<circle cx="99.08" cy="242.89" r="0.45" fill="#6a6a6a" fill-opacity="0.25"/>
<circle cx="143.33" cy="237.95" r="0.69" fill="#6a6a6a" fill-opacity="0.43"/>
<circle cx="300.16" cy="231.89" r="0.65" fill="#6a6a6a" fill-opacity="0.43"/>
<circle cx="43.18" cy="284.86" r="0.59" fill="#6a6a6a" fill-opacity="0.45"/>
<circle cx="155.32" cy="191.86" r="0.66" fill="#6a6a6a" fill-opacity="0.27"/>
<circle cx="66.19" cy="270.17" r="0.45" fill="#6a6a6a" fill-opacity="0.37"/>
<circle cx="111.01" cy="238.63" r="0.63" fill="#6a6a6a" fill-opacity="0.37"/>
<ellipse cx="49" cy="225" rx="10.8" ry="14.4" fill="#d0d0d0" fill-opacity="0.45" filter="url(#bl4)"/>
<ellipse cx="46.59" cy="226.82" rx="5.93" ry="7.44" fill="#5e5e5e" fill-opacity="0.85" filter="url(#bl5)"/>
<ellipse cx="46.96" cy="227.81" rx="6.32" ry="7.54" fill="#5e5e5e" fill-opacity="0.85" filter="url(#bl5)"/>
<ellipse cx="49.04" cy="222.47" rx="4.51" ry="7.11" fill="#5e5e5e" fill-opacity="0.85" filter="url(#bl5)"/>
<ellipse cx="49.61" cy="220.86" rx="6.29" ry="6.7" fill="#5e5e5e" fill-opacity="0.85" filter="url(#bl5)"/>
<ellipse cx="85.8" cy="212" rx="12" ry="12" fill="#d0d0d0" fill-opacity="0.45" filter="url(#bl4)"/>
<ellipse cx="89.47" cy="209.12" rx="5.06" ry="7.5" fill="#555" fill-opacity="0.85" filter="url(#bl5)"/>
<ellipse cx="83.27" cy="208.96" rx="6.63" ry="5.86" fill="#555" fill-opacity="0.85" filter="url(#bl5)"/>
<ellipse cx="88.92" cy="209.85" rx="7.4" ry="5.8" fill="#555" fill-opacity="0.85" filter="url(#bl5)"/>
<ellipse cx="86.61" cy="215.46" rx="6.71" ry="7.31" fill="#555" fill-opacity="0.85" filter="url(#bl5)"/>
<ellipse cx="98" cy="231" rx="7.2" ry="9.6" fill="#d0d0d0" fill-opacity="0.45" filter="url(#bl4)"/>
<ellipse cx="100.04" cy="233.87" rx="4.34" ry="4.17" fill="#5a5a5a" fill-opacity="0.85" filter="url(#bl5)"/>
<ellipse cx="98.44" cy="230.51" rx="3.8" ry="4.26" fill="#5a5a5a" fill-opacity="0.85" filter="url(#bl5)"/>
<ellipse cx="96.52" cy="230.65" rx="3.33" ry="4.91" fill="#5a5a5a" fill-opacity="0.85" filter="url(#bl5)"/>
<ellipse cx="95.72" cy="228.35" rx="4.07" ry="4.84" fill="#5a5a5a" fill-opacity="0.85" filter="url(#bl5)"/>
<ellipse cx="72.3" cy="199" rx="8.05" ry="7.56" fill="#d8d8d8" fill-opacity="0.5" filter="url(#bl4)"/>
<circle cx="71.02" cy="198.16" r="4.63" fill="#4c4c4c" fill-opacity="0.88" filter="url(#bl5)"/>
<circle cx="72.39" cy="197.76" r="3.82" fill="#4c4c4c" fill-opacity="0.88" filter="url(#bl5)"/>
<circle cx="72.42" cy="199.63" r="3.93" fill="#4c4c4c" fill-opacity="0.88" filter="url(#bl5)"/>
<circle cx="67.47" cy="202.18" r="3.15" fill="#888888" fill-opacity="0.25" stroke="#363636" stroke-width="0.85" filter="url(#bl)"/>
<circle cx="67.45" cy="197.31" r="2.42" fill="#888888" fill-opacity="0.25" stroke="#363636" stroke-width="0.85" filter="url(#bl)"/>
<circle cx="72.23" cy="202.77" r="2.93" fill="#888888" fill-opacity="0.25" stroke="#363636" stroke-width="0.85" filter="url(#bl)"/>
<circle cx="77.94" cy="199.64" r="3.09" fill="#888888" fill-opacity="0.25" stroke="#363636" stroke-width="0.85" filter="url(#bl)"/>
<circle cx="66.88" cy="199.86" r="1.88" fill="#888888" fill-opacity="0.25" stroke="#363636" stroke-width="0.85" filter="url(#bl)"/>
<ellipse cx="58" cy="201" rx="4.6" ry="4.32" fill="#d8d8d8" fill-opacity="0.5" filter="url(#bl4)"/>
<circle cx="57.44" cy="201.76" r="2.5" fill="#4c4c4c" fill-opacity="0.88" filter="url(#bl5)"/>
<circle cx="58.78" cy="200.63" r="2.36" fill="#4c4c4c" fill-opacity="0.88" filter="url(#bl5)"/>
<circle cx="57.99" cy="200.95" r="2.56" fill="#4c4c4c" fill-opacity="0.88" filter="url(#bl5)"/>
<circle cx="58.82" cy="197.96" r="1.8" fill="#888888" fill-opacity="0.25" stroke="#363636" stroke-width="0.85" filter="url(#bl)"/>
<circle cx="60.35" cy="199.29" r="1.8" fill="#888888" fill-opacity="0.25" stroke="#363636" stroke-width="0.85" filter="url(#bl)"/>
<circle cx="58.41" cy="198.15" r="1.8" fill="#888888" fill-opacity="0.25" stroke="#363636" stroke-width="0.85" filter="url(#bl)"/>
<ellipse cx="51" cy="207" rx="5.75" ry="5.4" fill="#d8d8d8" fill-opacity="0.5" filter="url(#bl4)"/>
<circle cx="51.17" cy="207.31" r="3.36" fill="#4c4c4c" fill-opacity="0.88" filter="url(#bl5)"/>
<circle cx="51.98" cy="206.41" r="3.16" fill="#4c4c4c" fill-opacity="0.88" filter="url(#bl5)"/>
<circle cx="50.63" cy="206.77" r="2.79" fill="#4c4c4c" fill-opacity="0.88" filter="url(#bl5)"/>
<circle cx="53.92" cy="209.06" r="1.73" fill="#888888" fill-opacity="0.25" stroke="#363636" stroke-width="0.85" filter="url(#bl)"/>
<circle cx="47.74" cy="206.67" r="2.19" fill="#888888" fill-opacity="0.25" stroke="#363636" stroke-width="0.85" filter="url(#bl)"/>
<circle cx="54.18" cy="209.75" r="2.25" fill="#888888" fill-opacity="0.25" stroke="#363636" stroke-width="0.85" filter="url(#bl)"/>
<circle cx="52.28" cy="204.61" r="2.25" fill="#888888" fill-opacity="0.25" stroke="#363636" stroke-width="0.85" filter="url(#bl)"/>
<ellipse cx="85.8" cy="212" rx="11.5" ry="10.8" fill="#d8d8d8" fill-opacity="0.5" filter="url(#bl4)"/>
<circle cx="85.03" cy="211.25" r="5.4" fill="#4c4c4c" fill-opacity="0.88" filter="url(#bl5)"/>
<circle cx="84.26" cy="209.44" r="6.38" fill="#4c4c4c" fill-opacity="0.88" filter="url(#bl5)"/>
<circle cx="84.26" cy="212.67" r="6.93" fill="#4c4c4c" fill-opacity="0.88" filter="url(#bl5)"/>
<circle cx="81.74" cy="204.77" r="1.99" fill="#888888" fill-opacity="0.25" stroke="#363636" stroke-width="0.85" filter="url(#bl)"/>
<circle cx="84.02" cy="203.93" r="2.13" fill="#888888" fill-opacity="0.25" stroke="#363636" stroke-width="0.85" filter="url(#bl)"/>
<circle cx="88.72" cy="218.37" r="2.11" fill="#888888" fill-opacity="0.25" stroke="#363636" stroke-width="0.85" filter="url(#bl)"/>
<circle cx="90.19" cy="205.56" r="3.15" fill="#888888" fill-opacity="0.25" stroke="#363636" stroke-width="0.85" filter="url(#bl)"/>
<circle cx="81.44" cy="218.81" r="3.71" fill="#888888" fill-opacity="0.25" stroke="#363636" stroke-width="0.85" filter="url(#bl)"/>
<circle cx="80.16" cy="216.13" r="3.84" fill="#888888" fill-opacity="0.25" stroke="#363636" stroke-width="0.85" filter="url(#bl)"/>
<circle cx="86.18" cy="217.57" r="3.43" fill="#888888" fill-opacity="0.25" stroke="#363636" stroke-width="0.85" filter="url(#bl)"/>
<circle cx="80.49" cy="206.08" r="2.83" fill="#888888" fill-opacity="0.25" stroke="#363636" stroke-width="0.85" filter="url(#bl)"/>
<ellipse cx="75" cy="223.5" rx="6.9" ry="6.48" fill="#d8d8d8" fill-opacity="0.5" filter="url(#bl4)"/>
<circle cx="75.83" cy="224.07" r="3.15" fill="#4c4c4c" fill-opacity="0.88" filter="url(#bl5)"/>
<circle cx="73.99" cy="224.18" r="3.8" fill="#4c4c4c" fill-opacity="0.88" filter="url(#bl5)"/>
<circle cx="75.05" cy="223.02" r="3.74" fill="#4c4c4c" fill-opacity="0.88" filter="url(#bl5)"/>
<circle cx="71.73" cy="226.54" r="2.36" fill="#888888" fill-opacity="0.25" stroke="#363636" stroke-width="0.85" filter="url(#bl)"/>
<circle cx="78.55" cy="222.05" r="1.97" fill="#888888" fill-opacity="0.25" stroke="#363636" stroke-width="0.85" filter="url(#bl)"/>
<circle cx="70.73" cy="225.77" r="2.7" fill="#888888" fill-opacity="0.25" stroke="#363636" stroke-width="0.85" filter="url(#bl)"/>
<circle cx="78.6" cy="223.41" r="2.09" fill="#888888" fill-opacity="0.25" stroke="#363636" stroke-width="0.85" filter="url(#bl)"/>
<ellipse cx="67" cy="234.3" rx="6.9" ry="6.48" fill="#d8d8d8" fill-opacity="0.5" filter="url(#bl4)"/>
<circle cx="67.26" cy="234.42" r="3.26" fill="#4c4c4c" fill-opacity="0.88" filter="url(#bl5)"/>
<circle cx="68.35" cy="233.17" r="3.05" fill="#4c4c4c" fill-opacity="0.88" filter="url(#bl5)"/>
<circle cx="67.3" cy="234.45" r="3.12" fill="#4c4c4c" fill-opacity="0.88" filter="url(#bl5)"/>
<circle cx="64.86" cy="238.21" r="2.3" fill="#888888" fill-opacity="0.25" stroke="#363636" stroke-width="0.85" filter="url(#bl)"/>
<circle cx="70.32" cy="233.75" r="2.7" fill="#888888" fill-opacity="0.25" stroke="#363636" stroke-width="0.85" filter="url(#bl)"/>
<circle cx="63.8" cy="233.62" r="2.7" fill="#888888" fill-opacity="0.25" stroke="#363636" stroke-width="0.85" filter="url(#bl)"/>
<circle cx="70.94" cy="233.14" r="2.7" fill="#888888" fill-opacity="0.25" stroke="#363636" stroke-width="0.85" filter="url(#bl)"/>
<ellipse cx="79" cy="234.3" rx="5.75" ry="5.4" fill="#d8d8d8" fill-opacity="0.5" filter="url(#bl4)"/>
<circle cx="78.52" cy="234.52" r="2.69" fill="#4c4c4c" fill-opacity="0.88" filter="url(#bl5)"/>
<circle cx="78.72" cy="234.53" r="3.45" fill="#4c4c4c" fill-opacity="0.88" filter="url(#bl5)"/>
<circle cx="79.78" cy="233.33" r="3.11" fill="#4c4c4c" fill-opacity="0.88" filter="url(#bl5)"/>
<circle cx="75.52" cy="234.73" r="2.25" fill="#888888" fill-opacity="0.25" stroke="#363636" stroke-width="0.85" filter="url(#bl)"/>
<circle cx="76.06" cy="235.03" r="2.25" fill="#888888" fill-opacity="0.25" stroke="#363636" stroke-width="0.85" filter="url(#bl)"/>
<circle cx="81.23" cy="237.05" r="2.25" fill="#888888" fill-opacity="0.25" stroke="#363636" stroke-width="0.85" filter="url(#bl)"/>
<circle cx="76.91" cy="232.52" r="2.25" fill="#888888" fill-opacity="0.25" stroke="#363636" stroke-width="0.85" filter="url(#bl)"/>
<ellipse cx="86" cy="236" rx="4.6" ry="4.32" fill="#d8d8d8" fill-opacity="0.5" filter="url(#bl4)"/>
<circle cx="85.71" cy="235.71" r="2.57" fill="#4c4c4c" fill-opacity="0.88" filter="url(#bl5)"/>
<circle cx="86.11" cy="235.19" r="2.6" fill="#4c4c4c" fill-opacity="0.88" filter="url(#bl5)"/>
<circle cx="86" cy="236" r="2.77" fill="#4c4c4c" fill-opacity="0.88" filter="url(#bl5)"/>
<circle cx="88.41" cy="237.25" r="1.8" fill="#888888" fill-opacity="0.25" stroke="#363636" stroke-width="0.85" filter="url(#bl)"/>
<circle cx="87.75" cy="233.56" r="1.8" fill="#888888" fill-opacity="0.25" stroke="#363636" stroke-width="0.85" filter="url(#bl)"/>
<circle cx="83.77" cy="234.33" r="1.8" fill="#888888" fill-opacity="0.25" stroke="#363636" stroke-width="0.85" filter="url(#bl)"/>
<ellipse cx="99.3" cy="219" rx="5.75" ry="5.4" fill="#d8d8d8" fill-opacity="0.5" filter="url(#bl4)"/>
<circle cx="100.76" cy="219.27" r="3.3" fill="#4c4c4c" fill-opacity="0.88" filter="url(#bl5)"/>
<circle cx="100.57" cy="218.93" r="2.88" fill="#4c4c4c" fill-opacity="0.88" filter="url(#bl5)"/>
<circle cx="99.23" cy="219.13" r="2.87" fill="#4c4c4c" fill-opacity="0.88" filter="url(#bl5)"/>
<circle cx="97.37" cy="216.04" r="1.83" fill="#888888" fill-opacity="0.25" stroke="#363636" stroke-width="0.85" filter="url(#bl)"/>
<circle cx="99.75" cy="223.21" r="2.25" fill="#888888" fill-opacity="0.25" stroke="#363636" stroke-width="0.85" filter="url(#bl)"/>
<circle cx="98.31" cy="215.99" r="2.25" fill="#888888" fill-opacity="0.25" stroke="#363636" stroke-width="0.85" filter="url(#bl)"/>
<circle cx="101.96" cy="217.5" r="2.25" fill="#888888" fill-opacity="0.25" stroke="#363636" stroke-width="0.85" filter="url(#bl)"/>
<ellipse cx="96.6" cy="197" rx="6.9" ry="6.48" fill="#d8d8d8" fill-opacity="0.5" filter="url(#bl4)"/>
<circle cx="96.83" cy="196.61" r="3.23" fill="#4c4c4c" fill-opacity="0.88" filter="url(#bl5)"/>
<circle cx="96.33" cy="198.33" r="3.31" fill="#4c4c4c" fill-opacity="0.88" filter="url(#bl5)"/>
<circle cx="96.69" cy="196.75" r="3.12" fill="#4c4c4c" fill-opacity="0.88" filter="url(#bl5)"/>
<circle cx="92.86" cy="196.44" r="2.62" fill="#888888" fill-opacity="0.25" stroke="#363636" stroke-width="0.85" filter="url(#bl)"/>
<circle cx="99.53" cy="200.47" r="2.7" fill="#888888" fill-opacity="0.25" stroke="#363636" stroke-width="0.85" filter="url(#bl)"/>
<circle cx="93.85" cy="193.13" r="2.7" fill="#888888" fill-opacity="0.25" stroke="#363636" stroke-width="0.85" filter="url(#bl)"/>
<circle cx="95.86" cy="192.93" r="2.41" fill="#888888" fill-opacity="0.25" stroke="#363636" stroke-width="0.85" filter="url(#bl)"/>
<circle cx="45.68" cy="217.5" r="4.2" fill="#4c4c4c" fill-opacity="0.88" filter="url(#bl5)"/>
<circle cx="45.24" cy="217.27" r="3.97" fill="#4c4c4c" fill-opacity="0.88" filter="url(#bl5)"/>
<circle cx="44.25" cy="215.85" r="4.08" fill="#4c4c4c" fill-opacity="0.88" filter="url(#bl5)"/>
<circle cx="40.84" cy="219.35" r="2.7" fill="#888888" fill-opacity="0.25" stroke="#363636" stroke-width="0.85" filter="url(#bl)"/>
<circle cx="40.99" cy="215.29" r="2.7" fill="#888888" fill-opacity="0.25" stroke="#363636" stroke-width="0.85" filter="url(#bl)"/>
<circle cx="49.16" cy="216.16" r="2.47" fill="#888888" fill-opacity="0.25" stroke="#363636" stroke-width="0.85" filter="url(#bl)"/>
<circle cx="44.29" cy="213.68" r="2.46" fill="#888888" fill-opacity="0.25" stroke="#363636" stroke-width="0.85" filter="url(#bl)"/>
<circle cx="50.63" cy="231.32" r="4.4" fill="#4c4c4c" fill-opacity="0.88" filter="url(#bl5)"/>
<circle cx="49.68" cy="229.23" r="4.2" fill="#4c4c4c" fill-opacity="0.88" filter="url(#bl5)"/>
<circle cx="51.19" cy="229.39" r="4.38" fill="#4c4c4c" fill-opacity="0.88" filter="url(#bl5)"/>
<circle cx="53.17" cy="235.23" r="2.82" fill="#888888" fill-opacity="0.25" stroke="#363636" stroke-width="0.85" filter="url(#bl)"/>
<circle cx="46.53" cy="233.09" r="2" fill="#888888" fill-opacity="0.25" stroke="#363636" stroke-width="0.85" filter="url(#bl)"/>
<circle cx="49.82" cy="224.67" r="3.15" fill="#888888" fill-opacity="0.25" stroke="#363636" stroke-width="0.85" filter="url(#bl)"/>
<circle cx="48.57" cy="234.77" r="3.15" fill="#888888" fill-opacity="0.25" stroke="#363636" stroke-width="0.85" filter="url(#bl)"/>
<circle cx="55.05" cy="231.63" r="3.15" fill="#888888" fill-opacity="0.25" stroke="#363636" stroke-width="0.85" filter="url(#bl)"/>
<circle cx="41.04" cy="229.1" r="2.67" fill="#4c4c4c" fill-opacity="0.88" filter="url(#bl5)"/>
<circle cx="40.66" cy="229.59" r="2.72" fill="#4c4c4c" fill-opacity="0.88" filter="url(#bl5)"/>
<circle cx="42.71" cy="228.58" r="3.23" fill="#4c4c4c" fill-opacity="0.88" filter="url(#bl5)"/>
<circle cx="42.71" cy="231.9" r="2.25" fill="#888888" fill-opacity="0.25" stroke="#363636" stroke-width="0.85" filter="url(#bl)"/>
<circle cx="41.24" cy="231.68" r="2.25" fill="#888888" fill-opacity="0.25" stroke="#363636" stroke-width="0.85" filter="url(#bl)"/>
<circle cx="44.79" cy="228.46" r="1.96" fill="#888888" fill-opacity="0.25" stroke="#363636" stroke-width="0.85" filter="url(#bl)"/>
<circle cx="45.76" cy="228.44" r="2.25" fill="#888888" fill-opacity="0.25" stroke="#363636" stroke-width="0.85" filter="url(#bl)"/>
<ellipse cx="135" cy="196" rx="8.4" ry="6" fill="#d0d0d0" fill-opacity="0.45" filter="url(#bl4)"/>
<ellipse cx="132.27" cy="194.45" rx="4.19" ry="3.35" fill="#8c8c8c" fill-opacity="0.85" filter="url(#bl5)"/>
<ellipse cx="132.98" cy="194.45" rx="3.91" ry="3.45" fill="#8c8c8c" fill-opacity="0.85" filter="url(#bl5)"/>
<ellipse cx="133.03" cy="196.96" rx="4.66" ry="2.67" fill="#8c8c8c" fill-opacity="0.85" filter="url(#bl5)"/>
<ellipse cx="135.2" cy="195.79" rx="4.22" ry="3.75" fill="#8c8c8c" fill-opacity="0.85" filter="url(#bl5)"/>
<ellipse cx="118.5" cy="205.5" rx="10.35" ry="9.72" fill="#d8d8d8" fill-opacity="0.5" filter="url(#bl4)"/>
<circle cx="118.66" cy="205.98" r="5.07" fill="#4c4c4c" fill-opacity="0.88" filter="url(#bl5)"/>
<circle cx="120.76" cy="205.26" r="5" fill="#4c4c4c" fill-opacity="0.88" filter="url(#bl5)"/>
<circle cx="117.99" cy="204.87" r="5.91" fill="#4c4c4c" fill-opacity="0.88" filter="url(#bl5)"/>
<circle cx="117.94" cy="211.86" r="2.95" fill="#888888" fill-opacity="0.25" stroke="#363636" stroke-width="0.85" filter="url(#bl)"/>
<circle cx="113.95" cy="203.75" r="3.54" fill="#888888" fill-opacity="0.25" stroke="#363636" stroke-width="0.85" filter="url(#bl)"/>
<circle cx="122.29" cy="210.16" r="3.43" fill="#888888" fill-opacity="0.25" stroke="#363636" stroke-width="0.85" filter="url(#bl)"/>
<circle cx="123.2" cy="203.97" r="2.7" fill="#888888" fill-opacity="0.25" stroke="#363636" stroke-width="0.85" filter="url(#bl)"/>
<circle cx="116.32" cy="200.8" r="3.16" fill="#888888" fill-opacity="0.25" stroke="#363636" stroke-width="0.85" filter="url(#bl)"/>
<circle cx="113.56" cy="205.27" r="2.2" fill="#888888" fill-opacity="0.25" stroke="#363636" stroke-width="0.85" filter="url(#bl)"/>
<circle cx="119.23" cy="212.75" r="2.71" fill="#888888" fill-opacity="0.25" stroke="#363636" stroke-width="0.85" filter="url(#bl)"/>
<ellipse cx="148.4" cy="202.5" rx="10.35" ry="9.72" fill="#d8d8d8" fill-opacity="0.5" filter="url(#bl4)"/>
<circle cx="148.46" cy="204.06" r="4.71" fill="#4c4c4c" fill-opacity="0.88" filter="url(#bl5)"/>
<circle cx="148.39" cy="202.59" r="4.5" fill="#4c4c4c" fill-opacity="0.88" filter="url(#bl5)"/>
<circle cx="150.46" cy="203.65" r="5.08" fill="#4c4c4c" fill-opacity="0.88" filter="url(#bl5)"/>
<circle cx="140.86" cy="202.89" r="2.45" fill="#888888" fill-opacity="0.25" stroke="#363636" stroke-width="0.85" filter="url(#bl)"/>
<circle cx="144.34" cy="196.23" r="3.52" fill="#888888" fill-opacity="0.25" stroke="#363636" stroke-width="0.85" filter="url(#bl)"/>
<circle cx="144.35" cy="206.12" r="2.35" fill="#888888" fill-opacity="0.25" stroke="#363636" stroke-width="0.85" filter="url(#bl)"/>
<circle cx="155.55" cy="202.09" r="3.46" fill="#888888" fill-opacity="0.25" stroke="#363636" stroke-width="0.85" filter="url(#bl)"/>
<circle cx="153.59" cy="203.64" r="2.35" fill="#888888" fill-opacity="0.25" stroke="#363636" stroke-width="0.85" filter="url(#bl)"/>
<circle cx="151.06" cy="209.23" r="3.76" fill="#888888" fill-opacity="0.25" stroke="#363636" stroke-width="0.85" filter="url(#bl)"/>
<circle cx="141.1" cy="203.06" r="2.42" fill="#888888" fill-opacity="0.25" stroke="#363636" stroke-width="0.85" filter="url(#bl)"/>
<ellipse cx="157.8" cy="225" rx="8.05" ry="7.56" fill="#d8d8d8" fill-opacity="0.5" filter="url(#bl4)"/>
<circle cx="158.37" cy="224.09" r="4.42" fill="#4c4c4c" fill-opacity="0.88" filter="url(#bl5)"/>
<circle cx="157.9" cy="225.63" r="3.54" fill="#4c4c4c" fill-opacity="0.88" filter="url(#bl5)"/>
<circle cx="159.26" cy="224.58" r="3.61" fill="#4c4c4c" fill-opacity="0.88" filter="url(#bl5)"/>
<circle cx="161.37" cy="221.71" r="1.77" fill="#888888" fill-opacity="0.25" stroke="#363636" stroke-width="0.85" filter="url(#bl)"/>
<circle cx="153.44" cy="223.51" r="2.95" fill="#888888" fill-opacity="0.25" stroke="#363636" stroke-width="0.85" filter="url(#bl)"/>
<circle cx="162.24" cy="226.21" r="1.93" fill="#888888" fill-opacity="0.25" stroke="#363636" stroke-width="0.85" filter="url(#bl)"/>
<circle cx="161.02" cy="227.43" r="2.61" fill="#888888" fill-opacity="0.25" stroke="#363636" stroke-width="0.85" filter="url(#bl)"/>
<circle cx="160.65" cy="229.23" r="2.97" fill="#888888" fill-opacity="0.25" stroke="#363636" stroke-width="0.85" filter="url(#bl)"/>
<ellipse cx="158.8" cy="217.6" rx="3.2" ry="3.2" fill="none" stroke="#333" stroke-width="1" filter="url(#bl)"/>
<ellipse cx="187.5" cy="208.8" rx="10.35" ry="9.9" fill="#d8d8d8" fill-opacity="0.5" filter="url(#bl4)"/>
<circle cx="187.5" cy="208.8" r="6.48" fill="#505050" fill-opacity="0.9" filter="url(#bl5)"/>
<circle cx="194.21" cy="210.87" r="2.14" fill="#8a8a8a" fill-opacity="0.6" stroke="#333" stroke-width="0.85" filter="url(#bl)"/>
<circle cx="187.73" cy="215" r="2.87" fill="#8a8a8a" fill-opacity="0.6" stroke="#333" stroke-width="0.85" filter="url(#bl)"/>
<circle cx="184.45" cy="213.5" r="2.53" fill="#8a8a8a" fill-opacity="0.6" stroke="#333" stroke-width="0.85" filter="url(#bl)"/>
<circle cx="181.57" cy="205.97" r="2.66" fill="#8a8a8a" fill-opacity="0.6" stroke="#333" stroke-width="0.85" filter="url(#bl)"/>
<circle cx="186.34" cy="201.97" r="2.81" fill="#8a8a8a" fill-opacity="0.6" stroke="#333" stroke-width="0.85" filter="url(#bl)"/>
<circle cx="190.84" cy="203.97" r="2.3" fill="#8a8a8a" fill-opacity="0.6" stroke="#333" stroke-width="0.85" filter="url(#bl)"/>
<ellipse cx="211" cy="215" rx="6" ry="6" fill="#d0d0d0" fill-opacity="0.45" filter="url(#bl4)"/>
<ellipse cx="210.52" cy="213.92" rx="2.71" ry="3.64" fill="#555" fill-opacity="0.85" filter="url(#bl5)"/>
<ellipse cx="211.31" cy="215.76" rx="3.19" ry="2.98" fill="#555" fill-opacity="0.85" filter="url(#bl5)"/>
<ellipse cx="211.93" cy="215.31" rx="3.48" ry="3.33" fill="#555" fill-opacity="0.85" filter="url(#bl5)"/>
<ellipse cx="212.36" cy="214.76" rx="2.69" ry="2.69" fill="#555" fill-opacity="0.85" filter="url(#bl5)"/>
<ellipse cx="205" cy="211.5" rx="4" ry="4" fill="#a8a8a8" stroke="#333" stroke-width="0.9" filter="url(#bl)"/>
<ellipse cx="213.5" cy="207.5" rx="3.5" ry="3.5" fill="#a0a0a0" stroke="#333" stroke-width="0.9" filter="url(#bl)"/>
<ellipse cx="210.5" cy="219" rx="2.5" ry="2.5" fill="#909090" stroke="#333" stroke-width="0.8" filter="url(#bl)"/>
<ellipse cx="227.5" cy="214.5" rx="6" ry="6" fill="#d0d0d0" fill-opacity="0.45" filter="url(#bl4)"/>
<ellipse cx="228.06" cy="212.6" rx="2.84" ry="2.78" fill="#5a5a5a" fill-opacity="0.85" filter="url(#bl5)"/>
<ellipse cx="228.45" cy="215.21" rx="3.62" ry="2.61" fill="#5a5a5a" fill-opacity="0.85" filter="url(#bl5)"/>
<ellipse cx="227.19" cy="212.62" rx="2.77" ry="3.13" fill="#5a5a5a" fill-opacity="0.85" filter="url(#bl5)"/>
<ellipse cx="225.61" cy="213.3" rx="3.31" ry="3.18" fill="#5a5a5a" fill-opacity="0.85" filter="url(#bl5)"/>
<ellipse cx="225" cy="210" rx="5.2" ry="5.2" fill="#b4b4b4" stroke="#3a3a3a" stroke-width="1" filter="url(#bl)"/>
<ellipse cx="192.9" cy="230.6" rx="8.4" ry="5.4" fill="#d0d0d0" fill-opacity="0.45" filter="url(#bl4)"/>
<ellipse cx="190.32" cy="231.31" rx="3.75" ry="2.77" fill="#5a5a5a" fill-opacity="0.85" filter="url(#bl5)"/>
<ellipse cx="193.86" cy="231.65" rx="4.29" ry="2.81" fill="#5a5a5a" fill-opacity="0.85" filter="url(#bl5)"/>
<ellipse cx="190.21" cy="230.36" rx="4.15" ry="3.21" fill="#5a5a5a" fill-opacity="0.85" filter="url(#bl5)"/>
<ellipse cx="193.16" cy="231.52" rx="4.26" ry="2.45" fill="#5a5a5a" fill-opacity="0.85" filter="url(#bl5)"/>
<ellipse cx="187.5" cy="229.5" rx="2.5" ry="2.5" fill="#b0b0b0" stroke="#333" stroke-width="0.8" filter="url(#bl)"/>
<ellipse cx="193" cy="227.5" rx="2.4" ry="2.4" fill="#b0b0b0" stroke="#333" stroke-width="0.8" filter="url(#bl)"/>
<ellipse cx="198.5" cy="230.5" rx="2.6" ry="2.6" fill="#b0b0b0" stroke="#333" stroke-width="0.8" filter="url(#bl)"/>
<ellipse cx="192" cy="233.5" rx="2.2" ry="2.2" fill="#b0b0b0" stroke="#333" stroke-width="0.8" filter="url(#bl)"/>
<ellipse cx="222" cy="232" rx="14" ry="9" fill="#7e7e7e" filter="url(#bl3)"/>
<ellipse cx="288.5" cy="208.2" rx="12.65" ry="12.1" fill="#d8d8d8" fill-opacity="0.5" filter="url(#bl4)"/>
<circle cx="288.5" cy="208.2" r="7.92" fill="#505050" fill-opacity="0.9" filter="url(#bl5)"/>
<circle cx="296.91" cy="209.9" r="2.62" fill="#8a8a8a" fill-opacity="0.6" stroke="#333" stroke-width="0.85" filter="url(#bl)"/>
<circle cx="291.45" cy="215.19" r="3.51" fill="#8a8a8a" fill-opacity="0.6" stroke="#333" stroke-width="0.85" filter="url(#bl)"/>
<circle cx="288.83" cy="215.04" r="3.09" fill="#8a8a8a" fill-opacity="0.6" stroke="#333" stroke-width="0.85" filter="url(#bl)"/>
<circle cx="281.24" cy="211.63" r="3.25" fill="#8a8a8a" fill-opacity="0.6" stroke="#333" stroke-width="0.85" filter="url(#bl)"/>
<circle cx="280.31" cy="206.06" r="3.43" fill="#8a8a8a" fill-opacity="0.6" stroke="#333" stroke-width="0.85" filter="url(#bl)"/>
<circle cx="283.34" cy="203.23" r="2.82" fill="#8a8a8a" fill-opacity="0.6" stroke="#333" stroke-width="0.85" filter="url(#bl)"/>
<circle cx="291.49" cy="201.79" r="3.54" fill="#8a8a8a" fill-opacity="0.6" stroke="#333" stroke-width="0.85" filter="url(#bl)"/>
<circle cx="295.02" cy="202.92" r="2.91" fill="#8a8a8a" fill-opacity="0.6" stroke="#333" stroke-width="0.85" filter="url(#bl)"/>
<ellipse cx="252" cy="201.4" rx="8.05" ry="7.56" fill="#d8d8d8" fill-opacity="0.5" filter="url(#bl4)"/>
<circle cx="250.85" cy="200.69" r="4.59" fill="#4c4c4c" fill-opacity="0.88" filter="url(#bl5)"/>
<circle cx="252.05" cy="200.6" r="4.24" fill="#4c4c4c" fill-opacity="0.88" filter="url(#bl5)"/>
<circle cx="253.43" cy="200.59" r="4.68" fill="#4c4c4c" fill-opacity="0.88" filter="url(#bl5)"/>
<circle cx="254.32" cy="206.5" r="2.92" fill="#888888" fill-opacity="0.25" stroke="#363636" stroke-width="0.85" filter="url(#bl)"/>
<circle cx="253.31" cy="206.94" r="2.71" fill="#888888" fill-opacity="0.25" stroke="#363636" stroke-width="0.85" filter="url(#bl)"/>
<circle cx="249.83" cy="205.76" r="2.3" fill="#888888" fill-opacity="0.25" stroke="#363636" stroke-width="0.85" filter="url(#bl)"/>
<circle cx="255.98" cy="200.8" r="1.89" fill="#888888" fill-opacity="0.25" stroke="#363636" stroke-width="0.85" filter="url(#bl)"/>
<circle cx="246.48" cy="203.2" r="2.69" fill="#888888" fill-opacity="0.25" stroke="#363636" stroke-width="0.85" filter="url(#bl)"/>
<ellipse cx="271.6" cy="212.2" rx="6.9" ry="6.48" fill="#d8d8d8" fill-opacity="0.5" filter="url(#bl4)"/>
<circle cx="272.21" cy="211.95" r="3.12" fill="#4c4c4c" fill-opacity="0.88" filter="url(#bl5)"/>
<circle cx="271.73" cy="213.09" r="3.37" fill="#4c4c4c" fill-opacity="0.88" filter="url(#bl5)"/>
<circle cx="270.82" cy="211.84" r="3.75" fill="#4c4c4c" fill-opacity="0.88" filter="url(#bl5)"/>
<circle cx="275.16" cy="211.2" r="2.7" fill="#888888" fill-opacity="0.25" stroke="#363636" stroke-width="0.85" filter="url(#bl)"/>
<circle cx="271.26" cy="216.31" r="2.33" fill="#888888" fill-opacity="0.25" stroke="#363636" stroke-width="0.85" filter="url(#bl)"/>
<circle cx="275.76" cy="214.39" r="2.7" fill="#888888" fill-opacity="0.25" stroke="#363636" stroke-width="0.85" filter="url(#bl)"/>
<circle cx="268.91" cy="214.51" r="1.75" fill="#888888" fill-opacity="0.25" stroke="#363636" stroke-width="0.85" filter="url(#bl)"/>
<ellipse cx="299" cy="240.5" rx="4.6" ry="4.32" fill="#d8d8d8" fill-opacity="0.5" filter="url(#bl4)"/>
<circle cx="298.65" cy="240.76" r="2.4" fill="#4c4c4c" fill-opacity="0.88" filter="url(#bl5)"/>
<circle cx="298.76" cy="240.37" r="2.61" fill="#4c4c4c" fill-opacity="0.88" filter="url(#bl5)"/>
<circle cx="298.98" cy="239.98" r="2.4" fill="#4c4c4c" fill-opacity="0.88" filter="url(#bl5)"/>
<circle cx="296.34" cy="239.11" r="1.8" fill="#888888" fill-opacity="0.25" stroke="#363636" stroke-width="0.85" filter="url(#bl)"/>
<circle cx="300.4" cy="238.68" r="1.8" fill="#888888" fill-opacity="0.25" stroke="#363636" stroke-width="0.85" filter="url(#bl)"/>
<circle cx="297.33" cy="241.94" r="1.8" fill="#888888" fill-opacity="0.25" stroke="#363636" stroke-width="0.85" filter="url(#bl)"/>
<ellipse cx="289.8" cy="232" rx="7.2" ry="8.4" fill="#d0d0d0" fill-opacity="0.45" filter="url(#bl4)"/>
<ellipse cx="289.36" cy="232.24" rx="4.29" ry="3.81" fill="#4e4e4e" fill-opacity="0.85" filter="url(#bl5)"/>
<ellipse cx="288.48" cy="229.36" rx="3.17" ry="3.52" fill="#4e4e4e" fill-opacity="0.85" filter="url(#bl5)"/>
<ellipse cx="288.15" cy="232.08" rx="4.48" ry="4.71" fill="#4e4e4e" fill-opacity="0.85" filter="url(#bl5)"/>
<ellipse cx="289.22" cy="231.47" rx="4.04" ry="4.07" fill="#4e4e4e" fill-opacity="0.85" filter="url(#bl5)"/>
<ellipse cx="289.5" cy="231.5" rx="7" ry="7" fill="none" stroke="#333" stroke-width="1" filter="url(#bl)"/>
<ellipse cx="295" cy="224.5" rx="3" ry="3" fill="#a8a8a8" stroke="#333" stroke-width="0.9" filter="url(#bl)"/>
<ellipse cx="45" cy="266" rx="9.6" ry="10.8" fill="#d0d0d0" fill-opacity="0.45" filter="url(#bl4)"/>
<ellipse cx="44.7" cy="266.43" rx="5.85" ry="5.55" fill="#6e6e6e" fill-opacity="0.85" filter="url(#bl5)"/>
<ellipse cx="45.05" cy="266.63" rx="4.37" ry="5.65" fill="#6e6e6e" fill-opacity="0.85" filter="url(#bl5)"/>
<ellipse cx="45.83" cy="268.11" rx="4.19" ry="5.18" fill="#6e6e6e" fill-opacity="0.85" filter="url(#bl5)"/>
<ellipse cx="42.38" cy="268.23" rx="5.39" ry="4.59" fill="#6e6e6e" fill-opacity="0.85" filter="url(#bl5)"/>
<ellipse cx="76.4" cy="285.5" rx="7.2" ry="6" fill="#d0d0d0" fill-opacity="0.45" filter="url(#bl4)"/>
<ellipse cx="76.28" cy="286.13" rx="4" ry="2.68" fill="#666" fill-opacity="0.85" filter="url(#bl5)"/>
<ellipse cx="74.05" cy="285" rx="3.41" ry="3.51" fill="#666" fill-opacity="0.85" filter="url(#bl5)"/>
<ellipse cx="77.31" cy="285.91" rx="3.84" ry="3.33" fill="#666" fill-opacity="0.85" filter="url(#bl5)"/>
<ellipse cx="74.7" cy="285.26" rx="3.24" ry="3.63" fill="#666" fill-opacity="0.85" filter="url(#bl5)"/>
<ellipse cx="46.1" cy="246.6" rx="3.45" ry="3.24" fill="#d8d8d8" fill-opacity="0.5" filter="url(#bl4)"/>
<circle cx="45.84" cy="246.55" r="1.6" fill="#4c4c4c" fill-opacity="0.88" filter="url(#bl5)"/>
<circle cx="46.69" cy="246.95" r="1.91" fill="#4c4c4c" fill-opacity="0.88" filter="url(#bl5)"/>
<circle cx="46.53" cy="246.62" r="2.07" fill="#4c4c4c" fill-opacity="0.88" filter="url(#bl5)"/>
<circle cx="44.09" cy="248.17" r="1.35" fill="#888888" fill-opacity="0.25" stroke="#363636" stroke-width="0.85" filter="url(#bl)"/>
<circle cx="44.98" cy="245.11" r="1.35" fill="#888888" fill-opacity="0.25" stroke="#363636" stroke-width="0.85" filter="url(#bl)"/>
<circle cx="47.88" cy="244.85" r="1.35" fill="#888888" fill-opacity="0.25" stroke="#363636" stroke-width="0.85" filter="url(#bl)"/>
<ellipse cx="48" cy="254" rx="5.75" ry="5.4" fill="#d8d8d8" fill-opacity="0.5" filter="url(#bl4)"/>
<circle cx="47.6" cy="253.18" r="3.21" fill="#4c4c4c" fill-opacity="0.88" filter="url(#bl5)"/>
<circle cx="48.02" cy="253.87" r="3.15" fill="#4c4c4c" fill-opacity="0.88" filter="url(#bl5)"/>
<circle cx="47.85" cy="253.68" r="2.66" fill="#4c4c4c" fill-opacity="0.88" filter="url(#bl5)"/>
<circle cx="50.81" cy="255.12" r="1.86" fill="#888888" fill-opacity="0.25" stroke="#363636" stroke-width="0.85" filter="url(#bl)"/>
<circle cx="44.07" cy="255.17" r="2.25" fill="#888888" fill-opacity="0.25" stroke="#363636" stroke-width="0.85" filter="url(#bl)"/>
<circle cx="50.45" cy="255.79" r="2.25" fill="#888888" fill-opacity="0.25" stroke="#363636" stroke-width="0.85" filter="url(#bl)"/>
<circle cx="44.21" cy="255.51" r="2.25" fill="#888888" fill-opacity="0.25" stroke="#363636" stroke-width="0.85" filter="url(#bl)"/>
<ellipse cx="52.2" cy="275" rx="5.75" ry="5.4" fill="#d8d8d8" fill-opacity="0.5" filter="url(#bl4)"/>
<circle cx="51.38" cy="274.8" r="2.58" fill="#4c4c4c" fill-opacity="0.88" filter="url(#bl5)"/>
<circle cx="52.99" cy="276.05" r="3.38" fill="#4c4c4c" fill-opacity="0.88" filter="url(#bl5)"/>
<circle cx="52.24" cy="274.98" r="2.55" fill="#4c4c4c" fill-opacity="0.88" filter="url(#bl5)"/>
<circle cx="55.69" cy="273.15" r="2.02" fill="#888888" fill-opacity="0.25" stroke="#363636" stroke-width="0.85" filter="url(#bl)"/>
<circle cx="48.43" cy="274.43" r="2.25" fill="#888888" fill-opacity="0.25" stroke="#363636" stroke-width="0.85" filter="url(#bl)"/>
<circle cx="55.11" cy="275.86" r="1.74" fill="#888888" fill-opacity="0.25" stroke="#363636" stroke-width="0.85" filter="url(#bl)"/>
<circle cx="53.09" cy="272.31" r="2.25" fill="#888888" fill-opacity="0.25" stroke="#363636" stroke-width="0.85" filter="url(#bl)"/>
<ellipse cx="75" cy="253" rx="5.75" ry="5.4" fill="#d8d8d8" fill-opacity="0.5" filter="url(#bl4)"/>
<circle cx="75" cy="253" r="3.2" fill="#4c4c4c" fill-opacity="0.88" filter="url(#bl5)"/>
<circle cx="75.04" cy="251.96" r="2.5" fill="#4c4c4c" fill-opacity="0.88" filter="url(#bl5)"/>
<circle cx="74.1" cy="252.22" r="2.96" fill="#4c4c4c" fill-opacity="0.88" filter="url(#bl5)"/>
<circle cx="72.77" cy="251.26" r="1.76" fill="#888888" fill-opacity="0.25" stroke="#363636" stroke-width="0.85" filter="url(#bl)"/>
<circle cx="73.11" cy="255.15" r="1.77" fill="#888888" fill-opacity="0.25" stroke="#363636" stroke-width="0.85" filter="url(#bl)"/>
<circle cx="74.62" cy="256.21" r="2.16" fill="#888888" fill-opacity="0.25" stroke="#363636" stroke-width="0.85" filter="url(#bl)"/>
<circle cx="75.12" cy="256.64" r="1.85" fill="#888888" fill-opacity="0.25" stroke="#363636" stroke-width="0.85" filter="url(#bl)"/>
<ellipse cx="71" cy="262.5" rx="6.9" ry="6.48" fill="#d8d8d8" fill-opacity="0.5" filter="url(#bl4)"/>
<circle cx="71.31" cy="262.51" r="3.9" fill="#4c4c4c" fill-opacity="0.88" filter="url(#bl5)"/>
<circle cx="69.87" cy="261.89" r="3.23" fill="#4c4c4c" fill-opacity="0.88" filter="url(#bl5)"/>
<circle cx="70.98" cy="262.54" r="3.63" fill="#4c4c4c" fill-opacity="0.88" filter="url(#bl5)"/>
<circle cx="73.89" cy="258.4" r="2.7" fill="#888888" fill-opacity="0.25" stroke="#363636" stroke-width="0.85" filter="url(#bl)"/>
<circle cx="70.69" cy="266.25" r="2.09" fill="#888888" fill-opacity="0.25" stroke="#363636" stroke-width="0.85" filter="url(#bl)"/>
<circle cx="66.57" cy="261.99" r="2.48" fill="#888888" fill-opacity="0.25" stroke="#363636" stroke-width="0.85" filter="url(#bl)"/>
<circle cx="73.52" cy="266.25" r="2.01" fill="#888888" fill-opacity="0.25" stroke="#363636" stroke-width="0.85" filter="url(#bl)"/>
<ellipse cx="69" cy="271" rx="6.9" ry="6.48" fill="#d8d8d8" fill-opacity="0.5" filter="url(#bl4)"/>
<circle cx="67.55" cy="270.99" r="3.41" fill="#4c4c4c" fill-opacity="0.88" filter="url(#bl5)"/>
<circle cx="69.12" cy="271.12" r="3.73" fill="#4c4c4c" fill-opacity="0.88" filter="url(#bl5)"/>
<circle cx="69.42" cy="270.4" r="3.41" fill="#4c4c4c" fill-opacity="0.88" filter="url(#bl5)"/>
<circle cx="66.89" cy="267.41" r="2.7" fill="#888888" fill-opacity="0.25" stroke="#363636" stroke-width="0.85" filter="url(#bl)"/>
<circle cx="72.18" cy="268.37" r="2.7" fill="#888888" fill-opacity="0.25" stroke="#363636" stroke-width="0.85" filter="url(#bl)"/>
<circle cx="64.86" cy="269.36" r="2.13" fill="#888888" fill-opacity="0.25" stroke="#363636" stroke-width="0.85" filter="url(#bl)"/>
<circle cx="72.92" cy="273.91" r="2.04" fill="#888888" fill-opacity="0.25" stroke="#363636" stroke-width="0.85" filter="url(#bl)"/>
<ellipse cx="85.8" cy="274.6" rx="11.5" ry="10.8" fill="#d8d8d8" fill-opacity="0.5" filter="url(#bl4)"/>
<circle cx="84.54" cy="276.8" r="6.29" fill="#4c4c4c" fill-opacity="0.88" filter="url(#bl5)"/>
<circle cx="83.4" cy="274.18" r="6.52" fill="#4c4c4c" fill-opacity="0.88" filter="url(#bl5)"/>
<circle cx="83.14" cy="274.7" r="6.32" fill="#4c4c4c" fill-opacity="0.88" filter="url(#bl5)"/>
<circle cx="91.75" cy="274.01" r="2.12" fill="#888888" fill-opacity="0.25" stroke="#363636" stroke-width="0.85" filter="url(#bl)"/>
<circle cx="93.77" cy="276.06" r="3.43" fill="#888888" fill-opacity="0.25" stroke="#363636" stroke-width="0.85" filter="url(#bl)"/>
<circle cx="92.02" cy="270.1" r="2.44" fill="#888888" fill-opacity="0.25" stroke="#363636" stroke-width="0.85" filter="url(#bl)"/>
<circle cx="77.8" cy="274.98" r="3.72" fill="#888888" fill-opacity="0.25" stroke="#363636" stroke-width="0.85" filter="url(#bl)"/>
<circle cx="85.86" cy="266.69" r="2.81" fill="#888888" fill-opacity="0.25" stroke="#363636" stroke-width="0.85" filter="url(#bl)"/>
<circle cx="90.07" cy="279.16" r="2.37" fill="#888888" fill-opacity="0.25" stroke="#363636" stroke-width="0.85" filter="url(#bl)"/>
<circle cx="78.09" cy="277.68" r="2.32" fill="#888888" fill-opacity="0.25" stroke="#363636" stroke-width="0.85" filter="url(#bl)"/>
<circle cx="79.82" cy="270.54" r="2.75" fill="#888888" fill-opacity="0.25" stroke="#363636" stroke-width="0.85" filter="url(#bl)"/>
<ellipse cx="83" cy="251" rx="4.6" ry="4.32" fill="#d8d8d8" fill-opacity="0.5" filter="url(#bl4)"/>
<circle cx="82.87" cy="250.84" r="2.12" fill="#4c4c4c" fill-opacity="0.88" filter="url(#bl5)"/>
<circle cx="83.21" cy="251.1" r="2.02" fill="#4c4c4c" fill-opacity="0.88" filter="url(#bl5)"/>
<circle cx="83.36" cy="250.62" r="2.19" fill="#4c4c4c" fill-opacity="0.88" filter="url(#bl5)"/>
<circle cx="82.63" cy="248.18" r="1.8" fill="#888888" fill-opacity="0.25" stroke="#363636" stroke-width="0.85" filter="url(#bl)"/>
<circle cx="80.35" cy="249.81" r="1.56" fill="#888888" fill-opacity="0.25" stroke="#363636" stroke-width="0.85" filter="url(#bl)"/>
<circle cx="85.48" cy="251.74" r="1.8" fill="#888888" fill-opacity="0.25" stroke="#363636" stroke-width="0.85" filter="url(#bl)"/>
<ellipse cx="157.5" cy="258.7" rx="13.82" ry="13.82" fill="#d0d0d0" fill-opacity="0.5" filter="url(#bl4)"/>
<circle cx="157.5" cy="258.7" r="12.16" fill="#8e8e8e" filter="url(#bl)"/>
<circle cx="149.76" cy="251.16" r="0.51" fill="#c8c8c8" fill-opacity="0.8"/>
<circle cx="145.6" cy="261.31" r="0.95" fill="#4a4a4a" fill-opacity="0.8"/>
<circle cx="164.01" cy="264.31" r="0.69" fill="#5a5a5a" fill-opacity="0.8"/>
<circle cx="162.52" cy="262.44" r="0.7" fill="#5a5a5a" fill-opacity="0.8"/>
<circle cx="162.34" cy="269.34" r="0.58" fill="#6a6a6a" fill-opacity="0.8"/>
<circle cx="158.86" cy="254.23" r="0.72" fill="#c8c8c8" fill-opacity="0.8"/>
<circle cx="165.84" cy="267.84" r="0.6" fill="#4a4a4a" fill-opacity="0.8"/>
<circle cx="160.18" cy="270.84" r="0.64" fill="#5a5a5a" fill-opacity="0.8"/>
<circle cx="166.44" cy="256.49" r="0.59" fill="#5a5a5a" fill-opacity="0.8"/>
<circle cx="162.96" cy="257.61" r="0.65" fill="#6a6a6a" fill-opacity="0.8"/>
<circle cx="154.21" cy="262.61" r="0.63" fill="#5a5a5a" fill-opacity="0.8"/>
<circle cx="151.92" cy="268.57" r="0.5" fill="#c8c8c8" fill-opacity="0.8"/>
<circle cx="154.31" cy="252.14" r="0.68" fill="#bdbdbd" fill-opacity="0.8"/>
<circle cx="153.89" cy="268.53" r="0.74" fill="#5a5a5a" fill-opacity="0.8"/>
<circle cx="156.66" cy="255.83" r="0.97" fill="#4a4a4a" fill-opacity="0.8"/>
<circle cx="152.51" cy="264.92" r="0.89" fill="#c8c8c8" fill-opacity="0.8"/>
<circle cx="151.14" cy="265.81" r="0.73" fill="#4a4a4a" fill-opacity="0.8"/>
<circle cx="154.9" cy="249.14" r="0.56" fill="#5a5a5a" fill-opacity="0.8"/>
<circle cx="157.78" cy="270.05" r="0.67" fill="#6a6a6a" fill-opacity="0.8"/>
<circle cx="151.94" cy="265.89" r="0.55" fill="#6a6a6a" fill-opacity="0.8"/>
<circle cx="157.39" cy="247.5" r="0.52" fill="#bdbdbd" fill-opacity="0.8"/>
<circle cx="161.07" cy="257.43" r="0.76" fill="#bdbdbd" fill-opacity="0.8"/>
<circle cx="154.36" cy="262.37" r="0.96" fill="#bdbdbd" fill-opacity="0.8"/>
<circle cx="150.77" cy="256.74" r="0.65" fill="#bdbdbd" fill-opacity="0.8"/>
<circle cx="160.5" cy="249.23" r="1" fill="#bdbdbd" fill-opacity="0.8"/>
<circle cx="158.96" cy="261.05" r="0.77" fill="#c8c8c8" fill-opacity="0.8"/>
<circle cx="152.43" cy="262.11" r="0.67" fill="#c8c8c8" fill-opacity="0.8"/>
<circle cx="157.49" cy="268.82" r="0.53" fill="#5a5a5a" fill-opacity="0.8"/>
<circle cx="159.46" cy="257.56" r="0.67" fill="#6a6a6a" fill-opacity="0.8"/>
<circle cx="160.81" cy="270.68" r="0.97" fill="#c8c8c8" fill-opacity="0.8"/>
<circle cx="149.9" cy="250.56" r="0.58" fill="#4a4a4a" fill-opacity="0.8"/>
<circle cx="155.38" cy="260.88" r="0.65" fill="#6a6a6a" fill-opacity="0.8"/>
<circle cx="145.5" cy="262.34" r="0.99" fill="#5a5a5a" fill-opacity="0.8"/>
<circle cx="149.11" cy="261.22" r="0.74" fill="#bdbdbd" fill-opacity="0.8"/>
<circle cx="155.47" cy="266.41" r="0.56" fill="#5a5a5a" fill-opacity="0.8"/>
<circle cx="161.5" cy="250.47" r="0.81" fill="#5a5a5a" fill-opacity="0.8"/>
<circle cx="150.2" cy="258.73" r="0.75" fill="#4a4a4a" fill-opacity="0.8"/>
<circle cx="148.26" cy="257.82" r="0.68" fill="#c8c8c8" fill-opacity="0.8"/>
<circle cx="159.98" cy="247.94" r="0.83" fill="#c8c8c8" fill-opacity="0.8"/>
<circle cx="157.96" cy="251.15" r="0.92" fill="#bdbdbd" fill-opacity="0.8"/>
<circle cx="156.34" cy="271.07" r="0.98" fill="#bdbdbd" fill-opacity="0.8"/>
<circle cx="154.66" cy="263.18" r="0.74" fill="#4a4a4a" fill-opacity="0.8"/>
<circle cx="158.56" cy="251.62" r="0.73" fill="#bdbdbd" fill-opacity="0.8"/>
<circle cx="161.61" cy="249.48" r="0.67" fill="#bdbdbd" fill-opacity="0.8"/>
<circle cx="150.85" cy="250.23" r="0.68" fill="#6a6a6a" fill-opacity="0.8"/>
<circle cx="163.95" cy="248.94" r="0.99" fill="#6a6a6a" fill-opacity="0.8"/>
<circle cx="166.19" cy="256.26" r="0.99" fill="#c8c8c8" fill-opacity="0.8"/>
<circle cx="159.89" cy="265.86" r="0.64" fill="#6a6a6a" fill-opacity="0.8"/>
<circle cx="166.54" cy="263.58" r="0.59" fill="#6a6a6a" fill-opacity="0.8"/>
<circle cx="159.31" cy="249.31" r="0.65" fill="#6a6a6a" fill-opacity="0.8"/>
<circle cx="146.47" cy="254.87" r="0.86" fill="#bdbdbd" fill-opacity="0.8"/>
<circle cx="162.44" cy="259.57" r="0.81" fill="#6a6a6a" fill-opacity="0.8"/>
<circle cx="162.11" cy="268.61" r="0.82" fill="#5a5a5a" fill-opacity="0.8"/>
<circle cx="165.82" cy="260.94" r="0.58" fill="#5a5a5a" fill-opacity="0.8"/>
<circle cx="160.75" cy="256.07" r="0.74" fill="#5a5a5a" fill-opacity="0.8"/>
<circle cx="149.78" cy="256.28" r="0.69" fill="#bdbdbd" fill-opacity="0.8"/>
<circle cx="150.14" cy="252.47" r="0.86" fill="#5a5a5a" fill-opacity="0.8"/>
<circle cx="152.28" cy="263.98" r="0.93" fill="#bdbdbd" fill-opacity="0.8"/>
<circle cx="164.45" cy="250.95" r="0.69" fill="#c8c8c8" fill-opacity="0.8"/>
<circle cx="167.07" cy="260.91" r="0.65" fill="#4a4a4a" fill-opacity="0.8"/>
<circle cx="145.31" cy="257.73" r="0.98" fill="#bdbdbd" fill-opacity="0.8"/>
<circle cx="160.89" cy="251.32" r="0.82" fill="#c8c8c8" fill-opacity="0.8"/>
<circle cx="154.27" cy="262.16" r="0.69" fill="#c8c8c8" fill-opacity="0.8"/>
<circle cx="151.96" cy="259.51" r="0.8" fill="#5a5a5a" fill-opacity="0.8"/>
<circle cx="150.46" cy="268.24" r="0.69" fill="#4a4a4a" fill-opacity="0.8"/>
<circle cx="151.98" cy="269.36" r="0.57" fill="#c8c8c8" fill-opacity="0.8"/>
<circle cx="149.36" cy="250.09" r="0.71" fill="#6a6a6a" fill-opacity="0.8"/>
<circle cx="166.22" cy="257.41" r="0.99" fill="#6a6a6a" fill-opacity="0.8"/>
<circle cx="148.55" cy="267.13" r="0.8" fill="#5a5a5a" fill-opacity="0.8"/>
<circle cx="156.73" cy="271.1" r="0.63" fill="#6a6a6a" fill-opacity="0.8"/>
<circle cx="169.6" cy="260.2" r="0.75" fill="#bdbdbd" fill-opacity="0.8"/>
<circle cx="155.54" cy="267.14" r="0.83" fill="#4a4a4a" fill-opacity="0.8"/>
<circle cx="163.53" cy="257.19" r="0.89" fill="#4a4a4a" fill-opacity="0.8"/>
<circle cx="158.17" cy="257.42" r="0.78" fill="#c8c8c8" fill-opacity="0.8"/>
<circle cx="157.85" cy="267.33" r="0.62" fill="#4a4a4a" fill-opacity="0.8"/>
<circle cx="156.95" cy="263.6" r="0.65" fill="#bdbdbd" fill-opacity="0.8"/>
<circle cx="150.77" cy="253.27" r="0.94" fill="#c8c8c8" fill-opacity="0.8"/>
<circle cx="158.76" cy="257.72" r="0.65" fill="#5a5a5a" fill-opacity="0.8"/>
<circle cx="150.39" cy="257.18" r="0.87" fill="#bdbdbd" fill-opacity="0.8"/>
<circle cx="164.82" cy="259.93" r="0.57" fill="#c8c8c8" fill-opacity="0.8"/>
<circle cx="166.83" cy="258.87" r="0.94" fill="#4a4a4a" fill-opacity="0.8"/>
<circle cx="156.05" cy="258.27" r="0.8" fill="#6a6a6a" fill-opacity="0.8"/>
<circle cx="152.92" cy="247.34" r="0.93" fill="#6a6a6a" fill-opacity="0.8"/>
<circle cx="162.19" cy="251.43" r="0.95" fill="#5a5a5a" fill-opacity="0.8"/>
<circle cx="146.84" cy="261.08" r="0.92" fill="#bdbdbd" fill-opacity="0.8"/>
<circle cx="154.69" cy="250.94" r="0.82" fill="#bdbdbd" fill-opacity="0.8"/>
<circle cx="150.61" cy="259.9" r="0.74" fill="#5a5a5a" fill-opacity="0.8"/>
<circle cx="149.07" cy="256.01" r="0.77" fill="#bdbdbd" fill-opacity="0.8"/>
<circle cx="149.26" cy="262.86" r="0.53" fill="#4a4a4a" fill-opacity="0.8"/>
<circle cx="158.92" cy="269.97" r="0.83" fill="#4a4a4a" fill-opacity="0.8"/>
<circle cx="168.03" cy="260.4" r="1" fill="#4a4a4a" fill-opacity="0.8"/>
<circle cx="156.66" cy="256.06" r="0.61" fill="#4a4a4a" fill-opacity="0.8"/>
<circle cx="150.04" cy="248.99" r="1" fill="#5a5a5a" fill-opacity="0.8"/>
<circle cx="155.22" cy="250.72" r="0.81" fill="#5a5a5a" fill-opacity="0.8"/>
<circle cx="153.18" cy="261.29" r="0.61" fill="#c8c8c8" fill-opacity="0.8"/>
<circle cx="147.92" cy="255.22" r="0.64" fill="#4a4a4a" fill-opacity="0.8"/>
<circle cx="153.61" cy="256.84" r="0.94" fill="#6a6a6a" fill-opacity="0.8"/>
<circle cx="162.98" cy="264.86" r="0.84" fill="#bdbdbd" fill-opacity="0.8"/>
<circle cx="150.06" cy="259.19" r="0.96" fill="#bdbdbd" fill-opacity="0.8"/>
<circle cx="161.9" cy="263.9" r="0.82" fill="#c8c8c8" fill-opacity="0.8"/>
<circle cx="145.54" cy="258.26" r="0.77" fill="#c8c8c8" fill-opacity="0.8"/>
<circle cx="158.08" cy="261.8" r="0.63" fill="#5a5a5a" fill-opacity="0.8"/>
<circle cx="157.53" cy="249.68" r="0.9" fill="#5a5a5a" fill-opacity="0.8"/>
<circle cx="163.03" cy="252.31" r="0.59" fill="#6a6a6a" fill-opacity="0.8"/>
<circle cx="155.18" cy="248.82" r="0.79" fill="#4a4a4a" fill-opacity="0.8"/>
<circle cx="168.86" cy="261.31" r="0.8" fill="#c8c8c8" fill-opacity="0.8"/>
<circle cx="158.34" cy="270.42" r="0.98" fill="#6a6a6a" fill-opacity="0.8"/>
<circle cx="164.63" cy="264.42" r="0.86" fill="#c8c8c8" fill-opacity="0.8"/>
<circle cx="162.1" cy="260.31" r="0.84" fill="#6a6a6a" fill-opacity="0.8"/>
<circle cx="158.22" cy="262.91" r="0.91" fill="#6a6a6a" fill-opacity="0.8"/>
<ellipse cx="157.5" cy="255.7" rx="4.2" ry="5.6" fill="#7a7a7a" fill-opacity="0.6" stroke="#333" stroke-width="1" filter="url(#bl)"/>
<ellipse cx="160.5" cy="264" rx="4.5" ry="4" fill="#555" fill-opacity="0.6" filter="url(#bl5)"/>
<ellipse cx="110.7" cy="278.7" rx="5.75" ry="5.4" fill="#d8d8d8" fill-opacity="0.5" filter="url(#bl4)"/>
<circle cx="110.39" cy="278.04" r="2.67" fill="#4c4c4c" fill-opacity="0.88" filter="url(#bl5)"/>
<circle cx="110.52" cy="277.75" r="3.43" fill="#4c4c4c" fill-opacity="0.88" filter="url(#bl5)"/>
<circle cx="109.85" cy="277.72" r="3.02" fill="#4c4c4c" fill-opacity="0.88" filter="url(#bl5)"/>
<circle cx="107.32" cy="279.02" r="1.69" fill="#888888" fill-opacity="0.25" stroke="#363636" stroke-width="0.85" filter="url(#bl)"/>
<circle cx="114.23" cy="277.49" r="2.11" fill="#888888" fill-opacity="0.25" stroke="#363636" stroke-width="0.85" filter="url(#bl)"/>
<circle cx="107.18" cy="277.39" r="2.25" fill="#888888" fill-opacity="0.25" stroke="#363636" stroke-width="0.85" filter="url(#bl)"/>
<circle cx="114.44" cy="278.29" r="2.25" fill="#888888" fill-opacity="0.25" stroke="#363636" stroke-width="0.85" filter="url(#bl)"/>
<ellipse cx="217.8" cy="250" rx="9.6" ry="9.6" fill="#d0d0d0" fill-opacity="0.45" filter="url(#bl4)"/>
<ellipse cx="215.46" cy="252.22" rx="5.53" ry="4.51" fill="#585858" fill-opacity="0.85" filter="url(#bl5)"/>
<ellipse cx="217.77" cy="249.68" rx="5.3" ry="5.58" fill="#585858" fill-opacity="0.85" filter="url(#bl5)"/>
<ellipse cx="215.2" cy="246.98" rx="5.67" ry="4.87" fill="#585858" fill-opacity="0.85" filter="url(#bl5)"/>
<ellipse cx="219.48" cy="246.81" rx="4.89" ry="5.44" fill="#585858" fill-opacity="0.85" filter="url(#bl5)"/>
<circle cx="217.75" cy="249.91" r="4.08" fill="#4c4c4c" fill-opacity="0.88" filter="url(#bl5)"/>
<circle cx="217.81" cy="249.98" r="4.51" fill="#4c4c4c" fill-opacity="0.88" filter="url(#bl5)"/>
<circle cx="217.38" cy="250.4" r="4.81" fill="#4c4c4c" fill-opacity="0.88" filter="url(#bl5)"/>
<circle cx="221.98" cy="247.43" r="1.79" fill="#888888" fill-opacity="0.25" stroke="#363636" stroke-width="0.85" filter="url(#bl)"/>
<circle cx="218.74" cy="254.75" r="3.12" fill="#888888" fill-opacity="0.25" stroke="#363636" stroke-width="0.85" filter="url(#bl)"/>
<circle cx="214.44" cy="248.05" r="2.18" fill="#888888" fill-opacity="0.25" stroke="#363636" stroke-width="0.85" filter="url(#bl)"/>
<circle cx="216.29" cy="254.08" r="2.05" fill="#888888" fill-opacity="0.25" stroke="#363636" stroke-width="0.85" filter="url(#bl)"/>
<ellipse cx="190" cy="274" rx="8.4" ry="8.4" fill="#d0d0d0" fill-opacity="0.45" filter="url(#bl4)"/>
<ellipse cx="192.55" cy="276.51" rx="3.6" ry="3.65" fill="#6a6a6a" fill-opacity="0.85" filter="url(#bl5)"/>
<ellipse cx="191.88" cy="275.32" rx="4.67" ry="4.04" fill="#6a6a6a" fill-opacity="0.85" filter="url(#bl5)"/>
<ellipse cx="190.59" cy="274.6" rx="4.52" ry="3.78" fill="#6a6a6a" fill-opacity="0.85" filter="url(#bl5)"/>
<ellipse cx="189.61" cy="273.4" rx="4.77" ry="5.24" fill="#6a6a6a" fill-opacity="0.85" filter="url(#bl5)"/>
<ellipse cx="205" cy="275" rx="10.8" ry="10.8" fill="#d0d0d0" fill-opacity="0.45" filter="url(#bl4)"/>
<ellipse cx="203.11" cy="275.32" rx="5.33" ry="5.86" fill="#5a5a5a" fill-opacity="0.85" filter="url(#bl5)"/>
<ellipse cx="205.91" cy="271.87" rx="4.53" ry="6.38" fill="#5a5a5a" fill-opacity="0.85" filter="url(#bl5)"/>
<ellipse cx="203.27" cy="273.09" rx="6.74" ry="5.56" fill="#5a5a5a" fill-opacity="0.85" filter="url(#bl5)"/>
<ellipse cx="207.42" cy="274.83" rx="5.94" ry="4.84" fill="#5a5a5a" fill-opacity="0.85" filter="url(#bl5)"/>
<ellipse cx="197.6" cy="286" rx="7.2" ry="6" fill="#d0d0d0" fill-opacity="0.45" filter="url(#bl4)"/>
<ellipse cx="196.33" cy="284.41" rx="3.59" ry="2.69" fill="#606060" fill-opacity="0.85" filter="url(#bl5)"/>
<ellipse cx="195.52" cy="285.61" rx="4.38" ry="3.5" fill="#606060" fill-opacity="0.85" filter="url(#bl5)"/>
<ellipse cx="198.87" cy="284.89" rx="3.81" ry="2.85" fill="#606060" fill-opacity="0.85" filter="url(#bl5)"/>
<ellipse cx="196.03" cy="284.42" rx="3.32" ry="3.66" fill="#606060" fill-opacity="0.85" filter="url(#bl5)"/>
<ellipse cx="221.8" cy="281" rx="9.6" ry="9.6" fill="#d0d0d0" fill-opacity="0.45" filter="url(#bl4)"/>
<ellipse cx="222.59" cy="282.55" rx="5.59" ry="5.88" fill="#686868" fill-opacity="0.85" filter="url(#bl5)"/>
<ellipse cx="223.34" cy="283.7" rx="4.06" ry="4.93" fill="#686868" fill-opacity="0.85" filter="url(#bl5)"/>
<ellipse cx="224.64" cy="281.95" rx="5.8" ry="4.23" fill="#686868" fill-opacity="0.85" filter="url(#bl5)"/>
<ellipse cx="221.6" cy="279.38" rx="5.09" ry="5.15" fill="#686868" fill-opacity="0.85" filter="url(#bl5)"/>
<ellipse cx="230" cy="272" rx="3.6" ry="4.8" fill="#d0d0d0" fill-opacity="0.45" filter="url(#bl4)"/>
<ellipse cx="230.7" cy="273.03" rx="1.86" ry="2.26" fill="#3a3a3a" fill-opacity="0.85" filter="url(#bl5)"/>
<ellipse cx="228.8" cy="272.52" rx="1.85" ry="2.76" fill="#3a3a3a" fill-opacity="0.85" filter="url(#bl5)"/>
<ellipse cx="229.7" cy="272.86" rx="1.7" ry="2.8" fill="#3a3a3a" fill-opacity="0.85" filter="url(#bl5)"/>
<ellipse cx="230.55" cy="271.72" rx="1.9" ry="2.68" fill="#3a3a3a" fill-opacity="0.85" filter="url(#bl5)"/>
<ellipse cx="236.6" cy="283" rx="6" ry="7.2" fill="#d0d0d0" fill-opacity="0.45" filter="url(#bl4)"/>
<ellipse cx="235.9" cy="281.32" rx="3.31" ry="3.11" fill="#6a6a6a" fill-opacity="0.85" filter="url(#bl5)"/>
<ellipse cx="236.74" cy="282.36" rx="2.57" ry="3.76" fill="#6a6a6a" fill-opacity="0.85" filter="url(#bl5)"/>
<ellipse cx="234.75" cy="282.68" rx="2.59" ry="3.14" fill="#6a6a6a" fill-opacity="0.85" filter="url(#bl5)"/>
<ellipse cx="236.3" cy="284.57" rx="2.65" ry="3.33" fill="#6a6a6a" fill-opacity="0.85" filter="url(#bl5)"/>
<ellipse cx="200" cy="266" rx="4.8" ry="6" fill="#d0d0d0" fill-opacity="0.45" filter="url(#bl4)"/>
<ellipse cx="199.13" cy="267.85" rx="2.13" ry="3.38" fill="#555" fill-opacity="0.85" filter="url(#bl5)"/>
<ellipse cx="198.67" cy="264.99" rx="3" ry="2.76" fill="#555" fill-opacity="0.85" filter="url(#bl5)"/>
<ellipse cx="200.45" cy="265.84" rx="2.45" ry="3.12" fill="#555" fill-opacity="0.85" filter="url(#bl5)"/>
<ellipse cx="199.02" cy="267.32" rx="2.09" ry="2.79" fill="#555" fill-opacity="0.85" filter="url(#bl5)"/>
<circle cx="182.76" cy="262.76" r="2.74" fill="#4c4c4c" fill-opacity="0.88" filter="url(#bl5)"/>
<circle cx="182.57" cy="263.72" r="2.91" fill="#4c4c4c" fill-opacity="0.88" filter="url(#bl5)"/>
<circle cx="182.08" cy="262.39" r="3.05" fill="#4c4c4c" fill-opacity="0.88" filter="url(#bl5)"/>
<circle cx="178.96" cy="263.12" r="2.25" fill="#888888" fill-opacity="0.25" stroke="#363636" stroke-width="0.85" filter="url(#bl)"/>
<circle cx="185.21" cy="261.06" r="2.08" fill="#888888" fill-opacity="0.25" stroke="#363636" stroke-width="0.85" filter="url(#bl)"/>
<circle cx="180.17" cy="263.46" r="2.25" fill="#888888" fill-opacity="0.25" stroke="#363636" stroke-width="0.85" filter="url(#bl)"/>
<circle cx="217.52" cy="265.37" r="3.17" fill="#4c4c4c" fill-opacity="0.88" filter="url(#bl5)"/>
<circle cx="216.97" cy="265.01" r="2.7" fill="#4c4c4c" fill-opacity="0.88" filter="url(#bl5)"/>
<circle cx="216.66" cy="266.45" r="2.67" fill="#4c4c4c" fill-opacity="0.88" filter="url(#bl5)"/>
<circle cx="213.85" cy="262.39" r="2.25" fill="#888888" fill-opacity="0.25" stroke="#363636" stroke-width="0.85" filter="url(#bl)"/>
<circle cx="218.55" cy="261.89" r="2.25" fill="#888888" fill-opacity="0.25" stroke="#363636" stroke-width="0.85" filter="url(#bl)"/>
<circle cx="220.54" cy="263.74" r="2.25" fill="#888888" fill-opacity="0.25" stroke="#363636" stroke-width="0.85" filter="url(#bl)"/>
<circle cx="216.66" cy="268.57" r="2.25" fill="#888888" fill-opacity="0.25" stroke="#363636" stroke-width="0.85" filter="url(#bl)"/>
<circle cx="185.84" cy="276.17" r="2.53" fill="#4c4c4c" fill-opacity="0.88" filter="url(#bl5)"/>
<circle cx="187.1" cy="275.77" r="2.19" fill="#4c4c4c" fill-opacity="0.88" filter="url(#bl5)"/>
<circle cx="185.71" cy="276.17" r="2.02" fill="#4c4c4c" fill-opacity="0.88" filter="url(#bl5)"/>
<circle cx="185.14" cy="273.03" r="1.57" fill="#888888" fill-opacity="0.25" stroke="#363636" stroke-width="0.85" filter="url(#bl)"/>
<circle cx="183.9" cy="273.56" r="1.8" fill="#888888" fill-opacity="0.25" stroke="#363636" stroke-width="0.85" filter="url(#bl)"/>
<circle cx="186.57" cy="278.71" r="1.8" fill="#888888" fill-opacity="0.25" stroke="#363636" stroke-width="0.85" filter="url(#bl)"/>
<ellipse cx="267.6" cy="259.2" rx="10.35" ry="9.9" fill="#d8d8d8" fill-opacity="0.5" filter="url(#bl4)"/>
<circle cx="267.6" cy="259.2" r="6.48" fill="#505050" fill-opacity="0.9" filter="url(#bl5)"/>
<circle cx="273.76" cy="262.57" r="2.14" fill="#8a8a8a" fill-opacity="0.6" stroke="#333" stroke-width="0.85" filter="url(#bl)"/>
<circle cx="267.52" cy="265.41" r="2.87" fill="#8a8a8a" fill-opacity="0.6" stroke="#333" stroke-width="0.85" filter="url(#bl)"/>
<circle cx="265.03" cy="264.18" r="2.53" fill="#8a8a8a" fill-opacity="0.6" stroke="#333" stroke-width="0.85" filter="url(#bl)"/>
<circle cx="261.15" cy="257.92" r="2.66" fill="#8a8a8a" fill-opacity="0.6" stroke="#333" stroke-width="0.85" filter="url(#bl)"/>
<circle cx="263.88" cy="253.36" r="2.81" fill="#8a8a8a" fill-opacity="0.6" stroke="#333" stroke-width="0.85" filter="url(#bl)"/>
<circle cx="267.93" cy="253.34" r="2.3" fill="#8a8a8a" fill-opacity="0.6" stroke="#333" stroke-width="0.85" filter="url(#bl)"/>
<circle cx="273.31" cy="258.27" r="2.9" fill="#8a8a8a" fill-opacity="0.6" stroke="#333" stroke-width="0.85" filter="url(#bl)"/>
<ellipse cx="296.5" cy="253.8" rx="12.65" ry="12.1" fill="#d8d8d8" fill-opacity="0.5" filter="url(#bl4)"/>
<circle cx="296.5" cy="253.8" r="7.92" fill="#555" fill-opacity="0.9" filter="url(#bl5)"/>
<circle cx="305.04" cy="254.66" r="2.62" fill="#8a8a8a" fill-opacity="0.6" stroke="#333" stroke-width="0.85" filter="url(#bl)"/>
<circle cx="300.13" cy="260.46" r="3.51" fill="#8a8a8a" fill-opacity="0.6" stroke="#333" stroke-width="0.85" filter="url(#bl)"/>
<circle cx="297.51" cy="260.57" r="3.09" fill="#8a8a8a" fill-opacity="0.6" stroke="#333" stroke-width="0.85" filter="url(#bl)"/>
<circle cx="289.61" cy="257.94" r="3.25" fill="#8a8a8a" fill-opacity="0.6" stroke="#333" stroke-width="0.85" filter="url(#bl)"/>
<circle cx="288.14" cy="252.49" r="3.43" fill="#8a8a8a" fill-opacity="0.6" stroke="#333" stroke-width="0.85" filter="url(#bl)"/>
<circle cx="290.86" cy="249.37" r="2.82" fill="#8a8a8a" fill-opacity="0.6" stroke="#333" stroke-width="0.85" filter="url(#bl)"/>
<circle cx="298.83" cy="247.12" r="3.54" fill="#8a8a8a" fill-opacity="0.6" stroke="#333" stroke-width="0.85" filter="url(#bl)"/>
<circle cx="302.46" cy="247.89" r="2.91" fill="#8a8a8a" fill-opacity="0.6" stroke="#333" stroke-width="0.85" filter="url(#bl)"/>
<ellipse cx="246" cy="271.3" rx="6.9" ry="6.48" fill="#d8d8d8" fill-opacity="0.5" filter="url(#bl4)"/>
<circle cx="245.96" cy="272.12" r="4.01" fill="#4c4c4c" fill-opacity="0.88" filter="url(#bl5)"/>
<circle cx="245.86" cy="269.64" r="3.88" fill="#4c4c4c" fill-opacity="0.88" filter="url(#bl5)"/>
<circle cx="246.03" cy="271.53" r="4.12" fill="#4c4c4c" fill-opacity="0.88" filter="url(#bl5)"/>
<circle cx="249.49" cy="268.68" r="2.7" fill="#888888" fill-opacity="0.25" stroke="#363636" stroke-width="0.85" filter="url(#bl)"/>
<circle cx="244.83" cy="274.42" r="2.4" fill="#888888" fill-opacity="0.25" stroke="#363636" stroke-width="0.85" filter="url(#bl)"/>
<circle cx="243.45" cy="269.01" r="2.7" fill="#888888" fill-opacity="0.25" stroke="#363636" stroke-width="0.85" filter="url(#bl)"/>
<circle cx="249.98" cy="268.76" r="2.7" fill="#888888" fill-opacity="0.25" stroke="#363636" stroke-width="0.85" filter="url(#bl)"/>
<ellipse cx="254.8" cy="284.7" rx="6.9" ry="6.48" fill="#d8d8d8" fill-opacity="0.5" filter="url(#bl4)"/>
<circle cx="255.55" cy="286.33" r="3.56" fill="#6a6a6a" fill-opacity="0.88" filter="url(#bl5)"/>
<circle cx="255.65" cy="284.94" r="3.9" fill="#6a6a6a" fill-opacity="0.88" filter="url(#bl5)"/>
<circle cx="254.63" cy="283.12" r="4.17" fill="#6a6a6a" fill-opacity="0.88" filter="url(#bl5)"/>
<circle cx="259.43" cy="282.84" r="2.7" fill="#888888" fill-opacity="0.25" stroke="#363636" stroke-width="0.85" filter="url(#bl)"/>
<circle cx="258.17" cy="282.91" r="2.13" fill="#888888" fill-opacity="0.25" stroke="#363636" stroke-width="0.85" filter="url(#bl)"/>
<circle cx="250.61" cy="286.11" r="2.7" fill="#888888" fill-opacity="0.25" stroke="#363636" stroke-width="0.85" filter="url(#bl)"/>
<ellipse cx="254.8" cy="284.7" rx="6.5" ry="6.5" fill="none" stroke="#333" stroke-width="1" filter="url(#bl)"/>
</g>
<polygon points="86.5,250.7 93.2,248.2 92.4,254" fill="#F5E000"/>
<polygon points="154.8,266.5 148.6,265 150.6,271" fill="#F5E000"/>
<polygon points="116.1,280 121.5,277 121.8,283.2" fill="#F5E000"/>
<polygon points="228.4,270.3 225.6,264.6 231.4,264.6" fill="#F5E000"/>
<polygon points="250,268 256.6,265 256.8,271" fill="#F5E000"/>
<line x1="299.2" y1="290.6" x2="304.6" y2="290.6" stroke="#111" stroke-width="1.4"/>
</g>
<rect x="40.8" y="353.7" width="271.2" height="101.7" fill="#c2c2c2"/>
<radialGradient id="ge00" gradientUnits="userSpaceOnUse" cx="74" cy="384" r="39.6"><stop offset="0" stop-color="#a6a6a6"/><stop offset="0.52" stop-color="#c0c0c0"/><stop offset="0.6" stop-color="#c0c0c0"/><stop offset="1" stop-color="#8c8c8c"/></radialGradient>
<rect x="40.8" y="353.7" width="67.2" height="50.3" fill="url(#ge00)"/>
<radialGradient id="ge01" gradientUnits="userSpaceOnUse" cx="142" cy="378" r="43.2"><stop offset="0" stop-color="#9a9a9a"/><stop offset="0.52" stop-color="#b8b8b8"/><stop offset="0.6" stop-color="#b8b8b8"/><stop offset="1" stop-color="#909090"/></radialGradient>
<rect x="109" y="353.7" width="67" height="50.3" fill="url(#ge01)"/>
<radialGradient id="ge02" gradientUnits="userSpaceOnUse" cx="212" cy="380" r="45"><stop offset="0" stop-color="#a8a8a8"/><stop offset="0.52" stop-color="#bcbcbc"/><stop offset="0.6" stop-color="#bcbcbc"/><stop offset="1" stop-color="#8e8e8e"/></radialGradient>
<rect x="177" y="353.7" width="67" height="50.3" fill="url(#ge02)"/>
<radialGradient id="ge03" gradientUnits="userSpaceOnUse" cx="276" cy="378" r="43.2"><stop offset="0" stop-color="#a0a0a0"/><stop offset="0.52" stop-color="#b6b6b6"/><stop offset="0.6" stop-color="#b6b6b6"/><stop offset="1" stop-color="#858585"/></radialGradient>
<rect x="245" y="353.7" width="67" height="50.3" fill="url(#ge03)"/>
<radialGradient id="ge10" gradientUnits="userSpaceOnUse" cx="72" cy="430" r="39.6"><stop offset="0" stop-color="#a8a8a8"/><stop offset="0.52" stop-color="#bebebe"/><stop offset="0.6" stop-color="#bebebe"/><stop offset="1" stop-color="#8c8c8c"/></radialGradient>
<rect x="40.8" y="405" width="67.2" height="50.4" fill="url(#ge10)"/>
<radialGradient id="ge11" gradientUnits="userSpaceOnUse" cx="144" cy="428" r="43.2"><stop offset="0" stop-color="#969696"/><stop offset="0.52" stop-color="#b4b4b4"/><stop offset="0.6" stop-color="#b4b4b4"/><stop offset="1" stop-color="#8c8c8c"/></radialGradient>
<rect x="109" y="405" width="67" height="50.4" fill="url(#ge11)"/>
<radialGradient id="ge12" gradientUnits="userSpaceOnUse" cx="214" cy="430" r="43.2"><stop offset="0" stop-color="#a8a8a8"/><stop offset="0.52" stop-color="#bcbcbc"/><stop offset="0.6" stop-color="#bcbcbc"/><stop offset="1" stop-color="#8f8f8f"/></radialGradient>
<rect x="177" y="405" width="67" height="50.4" fill="url(#ge12)"/>
<radialGradient id="ge13" gradientUnits="userSpaceOnUse" cx="276" cy="430" r="43.2"><stop offset="0" stop-color="#a2a2a2"/><stop offset="0.52" stop-color="#b8b8b8"/><stop offset="0.6" stop-color="#b8b8b8"/><stop offset="1" stop-color="#858585"/></radialGradient>
<rect x="245" y="405" width="67" height="50.4" fill="url(#ge13)"/>
<clipPath id="ce"><rect x="40.8" y="353.7" width="271.2" height="101.7"/></clipPath>
<g clip-path="url(#ce)">
<circle cx="261.72" cy="363.7" r="0.77" fill="#5a5a5a" fill-opacity="0.46"/>
<circle cx="110.74" cy="397.18" r="0.37" fill="#5a5a5a" fill-opacity="0.25"/>
<circle cx="217.54" cy="431.99" r="0.43" fill="#5a5a5a" fill-opacity="0.44"/>
<circle cx="143.66" cy="409.14" r="0.73" fill="#5a5a5a" fill-opacity="0.28"/>
<circle cx="88.33" cy="396.87" r="0.79" fill="#5a5a5a" fill-opacity="0.34"/>
<circle cx="269" cy="371.65" r="0.69" fill="#5a5a5a" fill-opacity="0.5"/>
<circle cx="139.94" cy="374.78" r="0.4" fill="#5a5a5a" fill-opacity="0.25"/>
<circle cx="119.97" cy="414.21" r="0.74" fill="#5a5a5a" fill-opacity="0.29"/>
<circle cx="293.22" cy="370.91" r="0.58" fill="#5a5a5a" fill-opacity="0.46"/>
<circle cx="285.38" cy="446.14" r="0.78" fill="#5a5a5a" fill-opacity="0.23"/>
<circle cx="275.54" cy="354.16" r="0.56" fill="#5a5a5a" fill-opacity="0.33"/>
<circle cx="158.15" cy="362.67" r="0.53" fill="#5a5a5a" fill-opacity="0.44"/>
<circle cx="222.55" cy="354.64" r="0.71" fill="#5a5a5a" fill-opacity="0.31"/>
<circle cx="187.26" cy="384.58" r="0.65" fill="#5a5a5a" fill-opacity="0.38"/>
<circle cx="277.97" cy="359.73" r="0.53" fill="#5a5a5a" fill-opacity="0.55"/>
<circle cx="47.1" cy="364.89" r="0.67" fill="#5a5a5a" fill-opacity="0.54"/>
<circle cx="63.82" cy="373.25" r="0.66" fill="#5a5a5a" fill-opacity="0.38"/>
<circle cx="292.17" cy="366.71" r="0.41" fill="#5a5a5a" fill-opacity="0.27"/>
<circle cx="156.93" cy="378.27" r="0.57" fill="#5a5a5a" fill-opacity="0.23"/>
<circle cx="197.95" cy="385.54" r="0.45" fill="#5a5a5a" fill-opacity="0.25"/>
<circle cx="126.46" cy="384.06" r="0.79" fill="#5a5a5a" fill-opacity="0.43"/>
<circle cx="275.15" cy="402.29" r="0.39" fill="#5a5a5a" fill-opacity="0.42"/>
<circle cx="241.25" cy="453.45" r="0.35" fill="#5a5a5a" fill-opacity="0.21"/>
<circle cx="254.32" cy="377.61" r="0.36" fill="#5a5a5a" fill-opacity="0.23"/>
<circle cx="259.77" cy="408.57" r="0.76" fill="#5a5a5a" fill-opacity="0.47"/>
<circle cx="171.49" cy="389.11" r="0.51" fill="#5a5a5a" fill-opacity="0.26"/>
<circle cx="291.55" cy="395.18" r="0.56" fill="#5a5a5a" fill-opacity="0.34"/>
<circle cx="188.9" cy="440.24" r="0.64" fill="#5a5a5a" fill-opacity="0.37"/>
<circle cx="224.42" cy="431.7" r="0.62" fill="#5a5a5a" fill-opacity="0.39"/>
<circle cx="92.87" cy="369.22" r="0.65" fill="#5a5a5a" fill-opacity="0.45"/>
<circle cx="267.04" cy="380.71" r="0.54" fill="#5a5a5a" fill-opacity="0.2"/>
<circle cx="199.07" cy="410.63" r="0.47" fill="#5a5a5a" fill-opacity="0.43"/>
<circle cx="284.3" cy="397.3" r="0.63" fill="#5a5a5a" fill-opacity="0.41"/>
<circle cx="192.47" cy="375.86" r="0.36" fill="#5a5a5a" fill-opacity="0.55"/>
<circle cx="273.28" cy="453.13" r="0.73" fill="#5a5a5a" fill-opacity="0.24"/>
<circle cx="85.23" cy="395.29" r="0.65" fill="#5a5a5a" fill-opacity="0.45"/>
<circle cx="224.5" cy="400.96" r="0.45" fill="#5a5a5a" fill-opacity="0.41"/>
<circle cx="140.09" cy="421.44" r="0.42" fill="#5a5a5a" fill-opacity="0.5"/>
<circle cx="59.06" cy="454.01" r="0.79" fill="#5a5a5a" fill-opacity="0.44"/>
<circle cx="210.24" cy="374.62" r="0.62" fill="#5a5a5a" fill-opacity="0.36"/>
<circle cx="202.78" cy="359.45" r="0.72" fill="#5a5a5a" fill-opacity="0.43"/>
<circle cx="263.21" cy="433.93" r="0.35" fill="#5a5a5a" fill-opacity="0.29"/>
<circle cx="203.62" cy="390.33" r="0.42" fill="#5a5a5a" fill-opacity="0.46"/>
<circle cx="291.51" cy="400.26" r="0.57" fill="#5a5a5a" fill-opacity="0.39"/>
<circle cx="248.58" cy="412.87" r="0.46" fill="#5a5a5a" fill-opacity="0.32"/>
<circle cx="89.03" cy="391.01" r="0.5" fill="#5a5a5a" fill-opacity="0.5"/>
<circle cx="99.6" cy="374.88" r="0.5" fill="#5a5a5a" fill-opacity="0.38"/>
<circle cx="270.1" cy="400.28" r="0.53" fill="#5a5a5a" fill-opacity="0.48"/>
<circle cx="62.38" cy="396.36" r="0.62" fill="#5a5a5a" fill-opacity="0.25"/>
<circle cx="116.09" cy="441.25" r="0.67" fill="#5a5a5a" fill-opacity="0.32"/>
<circle cx="299.74" cy="403.82" r="0.6" fill="#5a5a5a" fill-opacity="0.44"/>
<circle cx="282.39" cy="384.37" r="0.41" fill="#5a5a5a" fill-opacity="0.34"/>
<circle cx="260.23" cy="443.34" r="0.6" fill="#5a5a5a" fill-opacity="0.37"/>
<circle cx="298.26" cy="386.98" r="0.64" fill="#5a5a5a" fill-opacity="0.25"/>
<circle cx="250.2" cy="451.04" r="0.61" fill="#5a5a5a" fill-opacity="0.21"/>
<circle cx="298.94" cy="444.15" r="0.63" fill="#5a5a5a" fill-opacity="0.37"/>
<circle cx="118.02" cy="399.21" r="0.51" fill="#5a5a5a" fill-opacity="0.23"/>
<circle cx="79.01" cy="414.61" r="0.5" fill="#5a5a5a" fill-opacity="0.3"/>
<circle cx="149.75" cy="365.65" r="0.56" fill="#5a5a5a" fill-opacity="0.52"/>
<circle cx="90.32" cy="424.35" r="0.57" fill="#5a5a5a" fill-opacity="0.44"/>
<circle cx="218.04" cy="376.46" r="0.51" fill="#5a5a5a" fill-opacity="0.55"/>
<circle cx="64.69" cy="384.57" r="0.79" fill="#5a5a5a" fill-opacity="0.34"/>
<circle cx="209.31" cy="398.43" r="0.5" fill="#5a5a5a" fill-opacity="0.39"/>
<circle cx="88.87" cy="360.39" r="0.5" fill="#5a5a5a" fill-opacity="0.22"/>
<circle cx="157.44" cy="441.31" r="0.56" fill="#5a5a5a" fill-opacity="0.2"/>
<circle cx="179.51" cy="378.37" r="0.42" fill="#5a5a5a" fill-opacity="0.54"/>
<circle cx="192" cy="452.23" r="0.44" fill="#5a5a5a" fill-opacity="0.46"/>
<circle cx="134.99" cy="414.56" r="0.37" fill="#5a5a5a" fill-opacity="0.24"/>
<circle cx="85.67" cy="409.03" r="0.69" fill="#5a5a5a" fill-opacity="0.22"/>
<circle cx="133.76" cy="450.96" r="0.59" fill="#5a5a5a" fill-opacity="0.35"/>
<circle cx="306.98" cy="427.99" r="0.55" fill="#5a5a5a" fill-opacity="0.33"/>
<circle cx="244.13" cy="408.22" r="0.43" fill="#5a5a5a" fill-opacity="0.33"/>
<circle cx="268.48" cy="372.29" r="0.66" fill="#5a5a5a" fill-opacity="0.51"/>
<circle cx="136.42" cy="370.2" r="0.73" fill="#5a5a5a" fill-opacity="0.2"/>
<circle cx="239.84" cy="420.05" r="0.45" fill="#5a5a5a" fill-opacity="0.29"/>
<circle cx="122.7" cy="408.85" r="0.57" fill="#5a5a5a" fill-opacity="0.53"/>
<circle cx="190.33" cy="418.04" r="0.71" fill="#5a5a5a" fill-opacity="0.26"/>
<circle cx="255.24" cy="362.77" r="0.71" fill="#5a5a5a" fill-opacity="0.23"/>
<circle cx="112.21" cy="356.31" r="0.42" fill="#5a5a5a" fill-opacity="0.31"/>
<circle cx="64.49" cy="441.47" r="0.65" fill="#5a5a5a" fill-opacity="0.31"/>
<circle cx="284.74" cy="373.69" r="0.41" fill="#5a5a5a" fill-opacity="0.42"/>
<circle cx="64.39" cy="440.98" r="0.56" fill="#5a5a5a" fill-opacity="0.34"/>
<circle cx="215.01" cy="372.08" r="0.76" fill="#5a5a5a" fill-opacity="0.22"/>
<circle cx="161.7" cy="424.78" r="0.36" fill="#5a5a5a" fill-opacity="0.55"/>
<circle cx="188.81" cy="439.21" r="0.52" fill="#5a5a5a" fill-opacity="0.35"/>
<circle cx="186.24" cy="451.7" r="0.57" fill="#5a5a5a" fill-opacity="0.45"/>
<circle cx="158.39" cy="381.4" r="0.75" fill="#5a5a5a" fill-opacity="0.54"/>
<circle cx="43.74" cy="454.25" r="0.79" fill="#5a5a5a" fill-opacity="0.37"/>
<circle cx="115.2" cy="419.96" r="0.76" fill="#5a5a5a" fill-opacity="0.52"/>
<circle cx="258.72" cy="441.1" r="0.59" fill="#5a5a5a" fill-opacity="0.24"/>
<circle cx="288.83" cy="391.56" r="0.55" fill="#5a5a5a" fill-opacity="0.35"/>
<circle cx="97.58" cy="445.58" r="0.36" fill="#5a5a5a" fill-opacity="0.36"/>
<circle cx="54.47" cy="426.15" r="0.36" fill="#5a5a5a" fill-opacity="0.49"/>
<circle cx="198.67" cy="399.87" r="0.73" fill="#5a5a5a" fill-opacity="0.36"/>
<circle cx="133.14" cy="430.02" r="0.43" fill="#5a5a5a" fill-opacity="0.29"/>
<circle cx="101.71" cy="371.59" r="0.61" fill="#5a5a5a" fill-opacity="0.28"/>
<circle cx="181.99" cy="410.03" r="0.57" fill="#5a5a5a" fill-opacity="0.4"/>
<circle cx="105.25" cy="398.97" r="0.7" fill="#5a5a5a" fill-opacity="0.51"/>
<circle cx="272.24" cy="356.58" r="0.68" fill="#5a5a5a" fill-opacity="0.5"/>
<circle cx="82.56" cy="401.2" r="0.63" fill="#5a5a5a" fill-opacity="0.37"/>
<circle cx="124.96" cy="372.57" r="0.39" fill="#5a5a5a" fill-opacity="0.42"/>
<circle cx="138.07" cy="388.88" r="0.67" fill="#5a5a5a" fill-opacity="0.27"/>
<circle cx="121.8" cy="363.15" r="0.65" fill="#5a5a5a" fill-opacity="0.27"/>
<circle cx="245.05" cy="429.5" r="0.74" fill="#5a5a5a" fill-opacity="0.3"/>
<circle cx="245.42" cy="428.88" r="0.43" fill="#5a5a5a" fill-opacity="0.49"/>
<circle cx="127.55" cy="440.6" r="0.58" fill="#5a5a5a" fill-opacity="0.23"/>
<circle cx="197.93" cy="454.18" r="0.63" fill="#5a5a5a" fill-opacity="0.52"/>
<circle cx="150.52" cy="421.87" r="0.45" fill="#5a5a5a" fill-opacity="0.44"/>
<circle cx="284.79" cy="374.38" r="0.77" fill="#5a5a5a" fill-opacity="0.45"/>
<circle cx="74.89" cy="395.24" r="0.48" fill="#5a5a5a" fill-opacity="0.36"/>
<circle cx="278.92" cy="433.63" r="0.62" fill="#5a5a5a" fill-opacity="0.36"/>
<circle cx="115.51" cy="409.65" r="0.38" fill="#5a5a5a" fill-opacity="0.54"/>
<circle cx="176.72" cy="425.48" r="0.39" fill="#5a5a5a" fill-opacity="0.26"/>
<circle cx="217.36" cy="447.77" r="0.54" fill="#5a5a5a" fill-opacity="0.27"/>
<circle cx="249.91" cy="432.14" r="0.39" fill="#5a5a5a" fill-opacity="0.43"/>
<circle cx="164.19" cy="371.45" r="0.77" fill="#5a5a5a" fill-opacity="0.41"/>
<circle cx="217.11" cy="432.27" r="0.69" fill="#5a5a5a" fill-opacity="0.4"/>
<circle cx="126.48" cy="402.28" r="0.58" fill="#5a5a5a" fill-opacity="0.3"/>
<circle cx="83.98" cy="358.18" r="0.67" fill="#5a5a5a" fill-opacity="0.29"/>
<circle cx="91.24" cy="377.95" r="0.76" fill="#5a5a5a" fill-opacity="0.25"/>
<circle cx="235.44" cy="394.08" r="0.77" fill="#5a5a5a" fill-opacity="0.47"/>
<circle cx="158.75" cy="417.74" r="0.42" fill="#5a5a5a" fill-opacity="0.49"/>
<circle cx="73.49" cy="406.05" r="0.75" fill="#5a5a5a" fill-opacity="0.31"/>
<circle cx="94.63" cy="446.89" r="0.55" fill="#5a5a5a" fill-opacity="0.43"/>
<circle cx="310.19" cy="434.66" r="0.42" fill="#5a5a5a" fill-opacity="0.55"/>
<circle cx="257.82" cy="407.97" r="0.41" fill="#5a5a5a" fill-opacity="0.46"/>
<circle cx="69.77" cy="373.68" r="0.66" fill="#5a5a5a" fill-opacity="0.47"/>
<circle cx="290.7" cy="375.35" r="0.46" fill="#5a5a5a" fill-opacity="0.4"/>
<circle cx="214.41" cy="445.23" r="0.58" fill="#5a5a5a" fill-opacity="0.44"/>
<circle cx="256.1" cy="400.45" r="0.6" fill="#5a5a5a" fill-opacity="0.24"/>
<circle cx="204.58" cy="357.42" r="0.52" fill="#5a5a5a" fill-opacity="0.38"/>
<circle cx="148.91" cy="444.7" r="0.66" fill="#5a5a5a" fill-opacity="0.39"/>
<circle cx="236.55" cy="450.46" r="0.66" fill="#5a5a5a" fill-opacity="0.2"/>
<circle cx="85.69" cy="388.06" r="0.67" fill="#5a5a5a" fill-opacity="0.52"/>
<circle cx="241.7" cy="429.39" r="0.77" fill="#5a5a5a" fill-opacity="0.21"/>
<circle cx="273.01" cy="454.63" r="0.42" fill="#5a5a5a" fill-opacity="0.37"/>
<circle cx="50.81" cy="372.8" r="0.51" fill="#5a5a5a" fill-opacity="0.55"/>
<circle cx="299.76" cy="382.36" r="0.51" fill="#5a5a5a" fill-opacity="0.42"/>
<circle cx="291.54" cy="427.19" r="0.78" fill="#5a5a5a" fill-opacity="0.42"/>
<circle cx="101.04" cy="415.28" r="0.54" fill="#5a5a5a" fill-opacity="0.42"/>
<circle cx="187.64" cy="367.9" r="0.42" fill="#5a5a5a" fill-opacity="0.25"/>
<circle cx="73.39" cy="423.95" r="0.4" fill="#5a5a5a" fill-opacity="0.26"/>
<circle cx="176.19" cy="379.07" r="0.46" fill="#5a5a5a" fill-opacity="0.4"/>
<circle cx="110.12" cy="383.1" r="0.73" fill="#5a5a5a" fill-opacity="0.33"/>
<circle cx="220.31" cy="360.98" r="0.66" fill="#5a5a5a" fill-opacity="0.46"/>
<circle cx="66.13" cy="408.9" r="0.77" fill="#5a5a5a" fill-opacity="0.5"/>
<circle cx="135.12" cy="388.44" r="0.6" fill="#5a5a5a" fill-opacity="0.43"/>
<circle cx="241.69" cy="441.93" r="0.55" fill="#5a5a5a" fill-opacity="0.46"/>
<circle cx="234.22" cy="436.46" r="0.67" fill="#5a5a5a" fill-opacity="0.54"/>
<circle cx="122.04" cy="452.09" r="0.54" fill="#5a5a5a" fill-opacity="0.28"/>
<circle cx="206.73" cy="449.54" r="0.8" fill="#5a5a5a" fill-opacity="0.45"/>
<circle cx="166.06" cy="385.11" r="0.78" fill="#5a5a5a" fill-opacity="0.27"/>
<circle cx="170.26" cy="373.56" r="0.77" fill="#5a5a5a" fill-opacity="0.41"/>
<circle cx="151.24" cy="429.28" r="0.42" fill="#5a5a5a" fill-opacity="0.21"/>
<circle cx="157.79" cy="407.31" r="0.43" fill="#5a5a5a" fill-opacity="0.31"/>
<circle cx="279.16" cy="433.72" r="0.38" fill="#5a5a5a" fill-opacity="0.22"/>
<circle cx="124.33" cy="388.67" r="0.37" fill="#5a5a5a" fill-opacity="0.26"/>
<circle cx="272.6" cy="386.79" r="0.42" fill="#5a5a5a" fill-opacity="0.48"/>
<circle cx="101.67" cy="444.75" r="0.75" fill="#5a5a5a" fill-opacity="0.35"/>
<circle cx="206.54" cy="369.29" r="0.39" fill="#5a5a5a" fill-opacity="0.39"/>
<ellipse cx="48.7" cy="368.5" rx="6" ry="6" fill="#939393" fill-opacity="0.7" stroke="#383838" stroke-width="1.05" filter="url(#bl)"/>
<ellipse cx="53.13" cy="363.66" rx="2.02" ry="2.01" fill="#3a3a3a" fill-opacity="0.9" filter="url(#bl)"/>
<ellipse cx="53.68" cy="364.05" rx="1.93" ry="2" fill="#3a3a3a" fill-opacity="0.9" filter="url(#bl)"/>
<ellipse cx="54.25" cy="364.81" rx="2.24" ry="1.82" fill="#3a3a3a" fill-opacity="0.9" filter="url(#bl)"/>
<ellipse cx="66.9" cy="370.5" rx="7" ry="7" fill="#8a8a8a" fill-opacity="0.7" stroke="#383838" stroke-width="1.05" filter="url(#bl)"/>
<ellipse cx="66.9" cy="367.25" rx="2.29" ry="2.1" fill="#555" fill-opacity="0.9" filter="url(#bl)"/>
<ellipse cx="66.7" cy="367.19" rx="1.82" ry="1.83" fill="#555" fill-opacity="0.9" filter="url(#bl)"/>
<ellipse cx="67.02" cy="366.88" rx="2.21" ry="2.11" fill="#555" fill-opacity="0.9" filter="url(#bl)"/>
<ellipse cx="76.3" cy="360.4" rx="5" ry="5.5" fill="#939393" fill-opacity="0.7" stroke="#383838" stroke-width="1.05" filter="url(#bl)"/>
<ellipse cx="95.9" cy="373.2" rx="5.2" ry="6" fill="#939393" fill-opacity="0.7" stroke="#383838" stroke-width="1.05" filter="url(#bl)"/>
<ellipse cx="98.14" cy="360.26" rx="2.82" ry="2.61" fill="#6a6a6a" fill-opacity="0.9" filter="url(#bl)"/>
<ellipse cx="97.43" cy="358.55" rx="3.19" ry="2.97" fill="#6a6a6a" fill-opacity="0.9" filter="url(#bl)"/>
<ellipse cx="97.26" cy="360.69" rx="2.81" ry="2.8" fill="#6a6a6a" fill-opacity="0.9" filter="url(#bl)"/>
<ellipse cx="77.7" cy="377.9" rx="2.2" ry="2.2" fill="#939393" fill-opacity="0.7" stroke="#383838" stroke-width="1" filter="url(#bl)"/>
<ellipse cx="64.45" cy="390.07" rx="2.36" ry="2.71" fill="#4a4a4a" fill-opacity="0.9" filter="url(#bl)"/>
<ellipse cx="63.42" cy="388.53" rx="2.17" ry="2.24" fill="#4a4a4a" fill-opacity="0.9" filter="url(#bl)"/>
<ellipse cx="64.07" cy="389.21" rx="2.59" ry="2.49" fill="#4a4a4a" fill-opacity="0.9" filter="url(#bl)"/>
<ellipse cx="64.9" cy="397.4" rx="4.5" ry="4.5" fill="#939393" fill-opacity="0.7" stroke="#383838" stroke-width="1.05" filter="url(#bl)"/>
<ellipse cx="48.7" cy="401" rx="5" ry="5" fill="#939393" fill-opacity="0.7" stroke="#383838" stroke-width="1.05" filter="url(#bl)"/>
<ellipse cx="116.21" cy="370.98" rx="2.71" ry="3.1" fill="#5a5a5a" fill-opacity="0.9" filter="url(#bl)"/>
<ellipse cx="116.58" cy="370.64" rx="2.8" ry="3.6" fill="#5a5a5a" fill-opacity="0.9" filter="url(#bl)"/>
<ellipse cx="114.55" cy="369.24" rx="2.76" ry="3.86" fill="#5a5a5a" fill-opacity="0.9" filter="url(#bl)"/>
<ellipse cx="127.31" cy="368.8" rx="3" ry="3.16" fill="#4a4a4a" fill-opacity="0.9" filter="url(#bl)"/>
<ellipse cx="126.24" cy="368.49" rx="3.25" ry="2.93" fill="#4a4a4a" fill-opacity="0.9" filter="url(#bl)"/>
<ellipse cx="125.69" cy="368.33" rx="3.19" ry="2.87" fill="#4a4a4a" fill-opacity="0.9" filter="url(#bl)"/>
<ellipse cx="135.35" cy="369.39" rx="2.13" ry="2" fill="#555" fill-opacity="0.9" filter="url(#bl)"/>
<ellipse cx="135.41" cy="367.74" rx="2.33" ry="2.28" fill="#555" fill-opacity="0.9" filter="url(#bl)"/>
<ellipse cx="136.02" cy="368.93" rx="2.38" ry="2.2" fill="#555" fill-opacity="0.9" filter="url(#bl)"/>
<ellipse cx="157.1" cy="361.7" rx="5" ry="5" fill="#6a6a6a" fill-opacity="0.7" stroke="#383838" stroke-width="1.05" filter="url(#bl)"/>
<ellipse cx="169.87" cy="370.25" rx="2.29" ry="2.92" fill="#505050" fill-opacity="0.9" filter="url(#bl)"/>
<ellipse cx="171.33" cy="369.39" rx="2.13" ry="2.64" fill="#505050" fill-opacity="0.9" filter="url(#bl)"/>
<ellipse cx="171.24" cy="370.23" rx="2.22" ry="2.49" fill="#505050" fill-opacity="0.9" filter="url(#bl)"/>
<ellipse cx="140.35" cy="379.9" rx="2.36" ry="2.75" fill="#3a3a3a" fill-opacity="0.9" filter="url(#bl)"/>
<ellipse cx="140.45" cy="379.02" rx="2.75" ry="2.74" fill="#3a3a3a" fill-opacity="0.9" filter="url(#bl)"/>
<ellipse cx="140.55" cy="379.02" rx="2.64" ry="2.31" fill="#3a3a3a" fill-opacity="0.9" filter="url(#bl)"/>
<ellipse cx="134.16" cy="380.4" rx="1.82" ry="1.72" fill="#444" fill-opacity="0.9" filter="url(#bl)"/>
<ellipse cx="133.95" cy="380.38" rx="1.6" ry="1.79" fill="#444" fill-opacity="0.9" filter="url(#bl)"/>
<ellipse cx="133.74" cy="380.63" rx="1.51" ry="1.76" fill="#444" fill-opacity="0.9" filter="url(#bl)"/>
<ellipse cx="139" cy="388" rx="3" ry="3" fill="#909090" fill-opacity="0.7" stroke="#383838" stroke-width="0.9" filter="url(#bl)"/>
<ellipse cx="156.62" cy="389.56" rx="2.49" ry="2.18" fill="#5a5a5a" fill-opacity="0.9" filter="url(#bl)"/>
<ellipse cx="157.15" cy="389.64" rx="2.73" ry="2.78" fill="#5a5a5a" fill-opacity="0.9" filter="url(#bl)"/>
<ellipse cx="156.81" cy="389.77" rx="2.37" ry="2.61" fill="#5a5a5a" fill-opacity="0.9" filter="url(#bl)"/>
<ellipse cx="171.7" cy="385.73" rx="2.67" ry="3.09" fill="#4a4a4a" fill-opacity="0.9" filter="url(#bl)"/>
<ellipse cx="171.46" cy="385.11" rx="2.63" ry="2.78" fill="#4a4a4a" fill-opacity="0.9" filter="url(#bl)"/>
<ellipse cx="172.36" cy="385.27" rx="2.67" ry="3.02" fill="#4a4a4a" fill-opacity="0.9" filter="url(#bl)"/>
<ellipse cx="158.5" cy="398" rx="2.3" ry="2.3" fill="#939393" fill-opacity="0.7" stroke="#383838" stroke-width="0.9" filter="url(#bl)"/>
<ellipse cx="165.9" cy="394.7" rx="2.3" ry="2.3" fill="#939393" fill-opacity="0.7" stroke="#383838" stroke-width="0.9" filter="url(#bl)"/>
<ellipse cx="173.3" cy="397.4" rx="4" ry="4" fill="#939393" fill-opacity="0.7" stroke="#383838" stroke-width="0.9" filter="url(#bl)"/>
<ellipse cx="150.76" cy="402.62" rx="4.35" ry="3.65" fill="#3a3a3a" fill-opacity="0.9" filter="url(#bl)"/>
<ellipse cx="148.65" cy="400.87" rx="4.05" ry="3.86" fill="#3a3a3a" fill-opacity="0.9" filter="url(#bl)"/>
<ellipse cx="150.52" cy="401.25" rx="4.31" ry="3.05" fill="#3a3a3a" fill-opacity="0.9" filter="url(#bl)"/>
<ellipse cx="184" cy="379.2" rx="6.5" ry="6.5" fill="#a0a0a0" fill-opacity="0.7" stroke="#5a5a5a" stroke-width="0.8" filter="url(#bl)"/>
<ellipse cx="213" cy="363" rx="4" ry="4" fill="#7a7a7a" fill-opacity="0.7" stroke="#444" stroke-width="1.05" filter="url(#bl)"/>
<ellipse cx="225.01" cy="362.56" rx="2.9" ry="3.96" fill="#5a5a5a" fill-opacity="0.9" filter="url(#bl)"/>
<ellipse cx="223.92" cy="362.65" rx="2.81" ry="4.21" fill="#5a5a5a" fill-opacity="0.9" filter="url(#bl)"/>
<ellipse cx="224.72" cy="362.45" rx="2.49" ry="3.79" fill="#5a5a5a" fill-opacity="0.9" filter="url(#bl)"/>
<ellipse cx="209" cy="373.2" rx="4.5" ry="4.5" fill="#7a7a7a" fill-opacity="0.7" stroke="#555" stroke-width="1.05" filter="url(#bl)"/>
<ellipse cx="214.54" cy="379.68" rx="2.89" ry="3.5" fill="#555" fill-opacity="0.9" filter="url(#bl)"/>
<ellipse cx="216.99" cy="379.36" rx="2.77" ry="2.87" fill="#555" fill-opacity="0.9" filter="url(#bl)"/>
<ellipse cx="214.61" cy="380.14" rx="3.25" ry="3.02" fill="#555" fill-opacity="0.9" filter="url(#bl)"/>
<ellipse cx="196.2" cy="388" rx="4.5" ry="4.5" fill="#8a8a8a" fill-opacity="0.7" stroke="#555" stroke-width="1.05" filter="url(#bl)"/>
<ellipse cx="202.51" cy="391" rx="1.41" ry="2.23" fill="#222" fill-opacity="0.9" filter="url(#bl)"/>
<ellipse cx="201.89" cy="390.92" rx="1.43" ry="1.99" fill="#222" fill-opacity="0.9" filter="url(#bl)"/>
<ellipse cx="201.65" cy="391.65" rx="1.53" ry="1.93" fill="#222" fill-opacity="0.9" filter="url(#bl)"/>
<ellipse cx="237.61" cy="371.64" rx="2.2" ry="3" fill="#3a3a3a" fill-opacity="0.9" filter="url(#bl)"/>
<ellipse cx="237.88" cy="373.24" rx="2.17" ry="2.61" fill="#3a3a3a" fill-opacity="0.9" filter="url(#bl)"/>
<ellipse cx="237.66" cy="372.96" rx="2.26" ry="2.64" fill="#3a3a3a" fill-opacity="0.9" filter="url(#bl)"/>
<ellipse cx="238.6" cy="387.3" rx="6" ry="6" fill="#4a4a4a" fill-opacity="0.7" stroke="#1a1a1a" stroke-width="1.5" filter="url(#bl)"/>
<ellipse cx="212.3" cy="400" rx="3" ry="3" fill="#8a8a8a" fill-opacity="0.7" stroke="#222" stroke-width="1.05" filter="url(#bl)"/>
<ellipse cx="187.4" cy="400.8" rx="3" ry="3" fill="#8a8a8a" fill-opacity="0.7" stroke="#555" stroke-width="1.05" filter="url(#bl)"/>
<ellipse cx="229.68" cy="396.16" rx="1.49" ry="1.39" fill="#333" fill-opacity="0.9" filter="url(#bl)"/>
<ellipse cx="230.09" cy="397.01" rx="1.58" ry="1.37" fill="#333" fill-opacity="0.9" filter="url(#bl)"/>
<ellipse cx="230.37" cy="396.24" rx="1.26" ry="1.23" fill="#333" fill-opacity="0.9" filter="url(#bl)"/>
<ellipse cx="265.5" cy="362.4" rx="5" ry="5" fill="#939393" fill-opacity="0.7" stroke="#383838" stroke-width="1.05" filter="url(#bl)"/>
<ellipse cx="262.8" cy="373.9" rx="7" ry="7" fill="#939393" fill-opacity="0.7" stroke="#383838" stroke-width="1.05" filter="url(#bl)"/>
<ellipse cx="266.11" cy="369.82" rx="2.19" ry="1.94" fill="#222" fill-opacity="0.9" filter="url(#bl)"/>
<ellipse cx="265.15" cy="368.95" rx="2.37" ry="2.23" fill="#222" fill-opacity="0.9" filter="url(#bl)"/>
<ellipse cx="264.75" cy="370.49" rx="2.07" ry="1.8" fill="#222" fill-opacity="0.9" filter="url(#bl)"/>
<ellipse cx="271.96" cy="380.32" rx="1.52" ry="1.99" fill="#555" fill-opacity="0.9" filter="url(#bl)"/>
<ellipse cx="272.58" cy="379.97" rx="1.57" ry="1.53" fill="#555" fill-opacity="0.9" filter="url(#bl)"/>
<ellipse cx="272.99" cy="380.61" rx="1.7" ry="1.78" fill="#555" fill-opacity="0.9" filter="url(#bl)"/>
<ellipse cx="253.4" cy="384" rx="5" ry="5" fill="#939393" fill-opacity="0.7" stroke="#383838" stroke-width="1.05" filter="url(#bl)"/>
<ellipse cx="258.1" cy="392.7" rx="6.5" ry="6.5" fill="#939393" fill-opacity="0.7" stroke="#383838" stroke-width="1.05" filter="url(#bl)"/>
<ellipse cx="302.5" cy="368.5" rx="5.5" ry="6.5" fill="#939393" fill-opacity="0.7" stroke="#383838" stroke-width="1.05" filter="url(#bl)"/>
<ellipse cx="297.32" cy="378.54" rx="3.16" ry="2.56" fill="#333" fill-opacity="0.9" filter="url(#bl)"/>
<ellipse cx="298.31" cy="380.16" rx="2.95" ry="2.63" fill="#333" fill-opacity="0.9" filter="url(#bl)"/>
<ellipse cx="297.63" cy="378.5" rx="3.55" ry="2.37" fill="#333" fill-opacity="0.9" filter="url(#bl)"/>
<ellipse cx="297.8" cy="390" rx="3.5" ry="3.5" fill="#939393" fill-opacity="0.7" stroke="#383838" stroke-width="1.05" filter="url(#bl)"/>
<ellipse cx="283.7" cy="365.8" rx="2" ry="2" fill="#939393" fill-opacity="0.7" stroke="#383838" stroke-width="0.8" filter="url(#bl)"/>
<ellipse cx="73" cy="413.1" rx="3.5" ry="3.5" fill="#939393" fill-opacity="0.7" stroke="#383838" stroke-width="1.05" filter="url(#bl)"/>
<ellipse cx="69.6" cy="431.3" rx="5" ry="5" fill="#939393" fill-opacity="0.7" stroke="#383838" stroke-width="1.05" filter="url(#bl)"/>
<ellipse cx="53.19" cy="440.9" rx="3.54" ry="3.14" fill="#4a4a4a" fill-opacity="0.9" filter="url(#bl)"/>
<ellipse cx="51.06" cy="442" rx="3.46" ry="3.13" fill="#4a4a4a" fill-opacity="0.9" filter="url(#bl)"/>
<ellipse cx="51.57" cy="441.83" rx="3.03" ry="3.11" fill="#4a4a4a" fill-opacity="0.9" filter="url(#bl)"/>
<ellipse cx="66.62" cy="447.02" rx="1.99" ry="1.74" fill="#3a3a3a" fill-opacity="0.9" filter="url(#bl)"/>
<ellipse cx="66.2" cy="446.84" rx="1.91" ry="1.53" fill="#3a3a3a" fill-opacity="0.9" filter="url(#bl)"/>
<ellipse cx="65.61" cy="447.17" rx="1.81" ry="1.81" fill="#3a3a3a" fill-opacity="0.9" filter="url(#bl)"/>
<ellipse cx="75.9" cy="444.53" rx="1.81" ry="2.37" fill="#222" fill-opacity="0.9" filter="url(#bl)"/>
<ellipse cx="76.4" cy="443.75" rx="1.65" ry="2.18" fill="#222" fill-opacity="0.9" filter="url(#bl)"/>
<ellipse cx="75.72" cy="444.08" rx="1.9" ry="2.2" fill="#222" fill-opacity="0.9" filter="url(#bl)"/>
<ellipse cx="93.8" cy="446.7" rx="2" ry="2" fill="#939393" fill-opacity="0.7" stroke="#383838" stroke-width="0.9" filter="url(#bl)"/>
<ellipse cx="98.2" cy="453.19" rx="2.82" ry="1.93" fill="#3a3a3a" fill-opacity="0.9" filter="url(#bl)"/>
<ellipse cx="100.31" cy="452.23" rx="2.5" ry="2.24" fill="#3a3a3a" fill-opacity="0.9" filter="url(#bl)"/>
<ellipse cx="99.3" cy="452.37" rx="2.96" ry="2.02" fill="#3a3a3a" fill-opacity="0.9" filter="url(#bl)"/>
<ellipse cx="80.53" cy="453.91" rx="1.48" ry="1.51" fill="#333" fill-opacity="0.9" filter="url(#bl)"/>
<ellipse cx="80.48" cy="454.28" rx="1.35" ry="1.27" fill="#333" fill-opacity="0.9" filter="url(#bl)"/>
<ellipse cx="80.1" cy="454.49" rx="1.28" ry="1.21" fill="#333" fill-opacity="0.9" filter="url(#bl)"/>
<ellipse cx="90.5" cy="417.1" rx="1.5" ry="1.5" fill="#939393" fill-opacity="0.7" stroke="#383838" stroke-width="0.7" filter="url(#bl)"/>
<ellipse cx="120.85" cy="438.64" rx="1.6" ry="1.93" fill="#2a2a2a" fill-opacity="0.9" filter="url(#bl)"/>
<ellipse cx="122.21" cy="438.95" rx="1.92" ry="1.51" fill="#2a2a2a" fill-opacity="0.9" filter="url(#bl)"/>
<ellipse cx="121.63" cy="439.3" rx="1.82" ry="1.51" fill="#2a2a2a" fill-opacity="0.9" filter="url(#bl)"/>
<ellipse cx="139.81" cy="451.08" rx="3.21" ry="2.45" fill="#2a2a2a" fill-opacity="0.9" filter="url(#bl)"/>
<ellipse cx="141.36" cy="449.46" rx="3.83" ry="3.05" fill="#2a2a2a" fill-opacity="0.9" filter="url(#bl)"/>
<ellipse cx="141.7" cy="449.62" rx="3.25" ry="2.57" fill="#2a2a2a" fill-opacity="0.9" filter="url(#bl)"/>
<ellipse cx="159.1" cy="438.7" rx="2" ry="2" fill="#939393" fill-opacity="0.7" stroke="#383838" stroke-width="0.9" filter="url(#bl)"/>
<ellipse cx="196.13" cy="430.89" rx="3.76" ry="5.97" fill="#606060" fill-opacity="0.9" filter="url(#bl)"/>
<ellipse cx="195.88" cy="430.94" rx="3.79" ry="5.17" fill="#606060" fill-opacity="0.9" filter="url(#bl)"/>
<ellipse cx="194.55" cy="429.39" rx="3.46" ry="5.81" fill="#606060" fill-opacity="0.9" filter="url(#bl)"/>
<ellipse cx="216.92" cy="428.64" rx="3.42" ry="3.04" fill="#555" fill-opacity="0.9" filter="url(#bl)"/>
<ellipse cx="218.19" cy="429.49" rx="3.88" ry="3.05" fill="#555" fill-opacity="0.9" filter="url(#bl)"/>
<ellipse cx="216.48" cy="428.83" rx="3.28" ry="3.22" fill="#555" fill-opacity="0.9" filter="url(#bl)"/>
<ellipse cx="230.5" cy="426.6" rx="5.5" ry="5.5" fill="#7a7a7a" fill-opacity="0.7" stroke="#1a1a1a" stroke-width="1.5" filter="url(#bl)"/>
<ellipse cx="227.1" cy="445.4" rx="4.5" ry="4.5" fill="#a0a0a0" fill-opacity="0.7" stroke="#1a1a1a" stroke-width="1.2" filter="url(#bl)"/>
<ellipse cx="198.9" cy="413.8" rx="2.5" ry="2.5" fill="#939393" fill-opacity="0.7" stroke="#383838" stroke-width="0.9" filter="url(#bl)"/>
<ellipse cx="263.58" cy="416.19" rx="3.32" ry="4.22" fill="#707070" fill-opacity="0.9" filter="url(#bl)"/>
<ellipse cx="264.24" cy="413.94" rx="3.21" ry="3.72" fill="#707070" fill-opacity="0.9" filter="url(#bl)"/>
<ellipse cx="263.54" cy="413.53" rx="2.84" ry="3.77" fill="#707070" fill-opacity="0.9" filter="url(#bl)"/>
<ellipse cx="262.75" cy="424.33" rx="1.6" ry="1.92" fill="#1a1a1a" fill-opacity="0.9" filter="url(#bl)"/>
<ellipse cx="263.02" cy="423.8" rx="1.88" ry="1.56" fill="#1a1a1a" fill-opacity="0.9" filter="url(#bl)"/>
<ellipse cx="263" cy="424.88" rx="1.89" ry="1.82" fill="#1a1a1a" fill-opacity="0.9" filter="url(#bl)"/>
<ellipse cx="274.62" cy="436.06" rx="5.36" ry="5.31" fill="#6a6a6a" fill-opacity="0.9" filter="url(#bl)"/>
<ellipse cx="275.8" cy="436.67" rx="5.52" ry="4.77" fill="#6a6a6a" fill-opacity="0.9" filter="url(#bl)"/>
<ellipse cx="274.2" cy="437.25" rx="4.37" ry="4.65" fill="#6a6a6a" fill-opacity="0.9" filter="url(#bl)"/>
<ellipse cx="295.1" cy="422.5" rx="4" ry="4" fill="#b8b8b8" fill-opacity="0.7" stroke="#444" stroke-width="1.05" filter="url(#bl)"/>
</g>
<polygon points="149,412.7 155.8,412.7 152.4,407.5" fill="#F5E000"/>
<polygon points="149.7,421 155.2,417.6 155.2,424.2" fill="#F5E000"/>
<polygon points="125.5,437.3 130.9,434 131.1,439.4" fill="#F5E000"/>
<line x1="303.9" y1="452.5" x2="309.3" y2="452.5" stroke="#111" stroke-width="1.4"/>
<line x1="104.3" y1="191" x2="104.3" y2="293" stroke="#c8c8c8" stroke-width="1"/>
<line x1="172.5" y1="191" x2="172.5" y2="293" stroke="#c8c8c8" stroke-width="1"/>
<line x1="240.5" y1="191" x2="240.5" y2="293" stroke="#c8c8c8" stroke-width="1"/>
<line x1="36.7" y1="242.2" x2="308" y2="242.2" stroke="#c8c8c8" stroke-width="1"/>
<line x1="108.5" y1="353.7" x2="108.5" y2="455.4" stroke="#c2c2c2" stroke-width="1"/>
<line x1="176.5" y1="353.7" x2="176.5" y2="455.4" stroke="#c2c2c2" stroke-width="1"/>
<line x1="244.5" y1="353.7" x2="244.5" y2="455.4" stroke="#c2c2c2" stroke-width="1"/>
<line x1="40.8" y1="404.5" x2="312" y2="404.5" stroke="#c2c2c2" stroke-width="1"/>
<text x="66.5" y="186.2" font-size="8.6" text-anchor="start" font-weight="normal" font-style="italic" fill="#333" textLength="8.2" lengthAdjust="spacingAndGlyphs">f/f</text>
<text x="127.2" y="186.2" font-size="8.6" text-anchor="start" font-weight="normal" font-style="italic" fill="#333" textLength="17.2" lengthAdjust="spacingAndGlyphs">&#916;IEC</text>
<text x="187.8" y="186.2" font-size="8.6" text-anchor="start" font-weight="normal" font-style="italic" fill="#333" textLength="30.5" lengthAdjust="spacingAndGlyphs">f/f Ripk3</text>
<text x="248.3" y="186.2" font-size="8.6" text-anchor="start" font-weight="normal" font-style="italic" fill="#333" textLength="40.2" lengthAdjust="spacingAndGlyphs">&#916;IEC Ripk3</text>
<text x="218.8" y="182.4" font-size="4.6" text-anchor="start" font-weight="normal" font-style="italic" fill="#333" textLength="4.5" lengthAdjust="spacingAndGlyphs">-/-</text>
<text x="289.2" y="182.4" font-size="4.6" text-anchor="start" font-weight="normal" font-style="italic" fill="#333" textLength="4.5" lengthAdjust="spacingAndGlyphs">-/-</text>
<text x="70.6" y="348.6" font-size="8.6" text-anchor="start" font-weight="normal" font-style="italic" fill="#333" textLength="8.4" lengthAdjust="spacingAndGlyphs">f/f</text>
<text x="131.2" y="348.6" font-size="8.6" text-anchor="start" font-weight="normal" font-style="italic" fill="#333" textLength="17.2" lengthAdjust="spacingAndGlyphs">&#916;IEC</text>
<text x="192.1" y="348.6" font-size="8.6" text-anchor="start" font-weight="normal" font-style="italic" fill="#333" textLength="31" lengthAdjust="spacingAndGlyphs">f/f Ripk3</text>
<text x="252.8" y="348.6" font-size="8.6" text-anchor="start" font-weight="normal" font-style="italic" fill="#333" textLength="40.5" lengthAdjust="spacingAndGlyphs">&#916;IEC Ripk3</text>
<text x="223.5" y="344.8" font-size="4.6" text-anchor="start" font-weight="normal" font-style="italic" fill="#333" textLength="4.5" lengthAdjust="spacingAndGlyphs">-/-</text>
<text x="293.7" y="344.8" font-size="4.6" text-anchor="start" font-weight="normal" font-style="italic" fill="#333" textLength="4.5" lengthAdjust="spacingAndGlyphs">-/-</text>
<text x="26.8" y="219.1" font-size="8" text-anchor="start" font-weight="normal" font-style="normal" fill="#333" textLength="7.4" lengthAdjust="spacingAndGlyphs">(-)</text>
<text x="7.8" y="270.1" font-size="8.3" text-anchor="start" font-weight="normal" font-style="normal" fill="#333" textLength="26.3" lengthAdjust="spacingAndGlyphs">B10.BR</text>
<text x="30.8" y="381.1" font-size="8" text-anchor="start" font-weight="normal" font-style="normal" fill="#333" textLength="7.2" lengthAdjust="spacingAndGlyphs">(-)</text>
<text x="7.9" y="432.4" font-size="8.3" text-anchor="start" font-weight="normal" font-style="normal" fill="#333" textLength="26.2" lengthAdjust="spacingAndGlyphs">B10.BR</text>
<rect x="0.5" y="0.5" width="519" height="495" fill="none" stroke="#000" stroke-width="1.2"/>
</svg></body></html>
